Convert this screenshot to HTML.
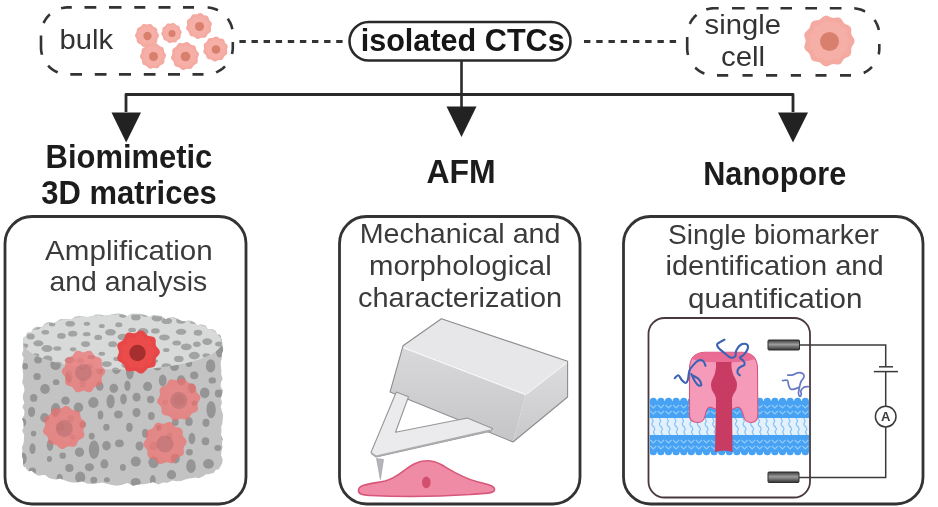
<!DOCTYPE html>
<html><head><meta charset="utf-8"><style>
html,body{margin:0;padding:0;background:#fff;width:938px;height:507px;overflow:hidden}
svg{display:block}
text{will-change:opacity}
.r{font-family:"Liberation Sans",sans-serif;font-weight:400}
.b{font-family:"Liberation Sans",sans-serif;font-weight:700}
</style></head><body>
<svg width="938" height="507" viewBox="0 0 938 507">
<rect width="938" height="507" fill="#fff"/>
<path d="M61.1,8.3 L61.5,8.2 L62.0,8.1 L62.5,8.0 L63.0,7.9 L63.5,7.8 L64.0,7.7 L64.5,7.6 L65.0,7.6 L65.5,7.5 L66.0,7.5 L66.5,7.4 L67.0,7.4 L67.5,7.4 L68.0,7.4 L68.5,7.4 L69.0,7.4 L69.5,7.4 L70.0,7.4 L70.5,7.4 L71.0,7.4 L71.5,7.4 L71.8,7.4 M84.5,7.4 L85.0,7.4 L85.5,7.4 L86.0,7.4 L86.5,7.4 L87.0,7.4 L87.5,7.4 L88.0,7.4 L88.5,7.4 L89.0,7.4 L89.5,7.4 L90.0,7.4 L90.5,7.4 L91.0,7.4 L91.5,7.4 L92.0,7.4 L92.5,7.4 L93.0,7.4 L93.5,7.4 L94.0,7.4 L94.5,7.4 L95.0,7.4 L95.5,7.4 L96.0,7.4 L96.3,7.4 M109.0,7.4 L109.5,7.4 L110.0,7.4 L110.5,7.4 L111.0,7.4 L111.5,7.4 L112.0,7.4 L112.5,7.4 L113.0,7.4 L113.5,7.4 L114.0,7.4 L114.5,7.4 L115.0,7.4 L115.5,7.4 L116.0,7.4 L116.5,7.4 L117.0,7.4 L117.5,7.4 L118.0,7.4 L118.5,7.4 L119.0,7.4 L119.5,7.4 L120.0,7.4 L120.5,7.4 L121.0,7.4 L121.5,7.4 L121.5,7.4 M134.3,7.4 L134.8,7.4 L135.3,7.4 L135.8,7.4 L136.3,7.4 L136.8,7.4 L137.3,7.4 L137.8,7.4 L138.3,7.4 L138.8,7.4 L139.3,7.4 L139.8,7.4 L140.3,7.4 L140.8,7.4 L141.3,7.4 L141.8,7.4 L142.3,7.4 L142.8,7.4 L143.3,7.4 L143.8,7.4 L144.3,7.4 L144.8,7.4 L145.3,7.4 L145.3,7.4 M158.5,7.4 L159.0,7.4 L159.5,7.4 L160.0,7.4 L160.5,7.4 L161.0,7.4 L161.5,7.4 L162.0,7.4 L162.5,7.4 L163.0,7.4 L163.5,7.4 L164.0,7.4 L164.5,7.4 L165.0,7.4 L165.5,7.4 L166.0,7.4 L166.5,7.4 L167.0,7.4 L167.5,7.4 L168.0,7.4 L168.5,7.4 L169.0,7.4 L169.5,7.4 L170.0,7.4 L170.5,7.4 L170.5,7.4 M183.0,7.4 L183.5,7.4 L184.0,7.4 L184.5,7.4 L185.0,7.4 L185.5,7.4 L186.0,7.4 L186.5,7.4 L187.0,7.4 L187.5,7.4 L188.0,7.4 L188.5,7.4 L189.0,7.4 L189.5,7.4 L190.0,7.4 L190.5,7.4 L191.0,7.4 L191.5,7.4 L192.0,7.4 L192.5,7.4 L193.0,7.4 L193.5,7.4 L194.0,7.4 L194.0,7.4 M207.6,7.5 L208.1,7.5 L208.6,7.5 L209.1,7.6 L209.6,7.7 L210.0,7.7 L210.5,7.8 L211.0,7.9 L211.5,8.0 L212.0,8.1 L212.5,8.2 L213.0,8.4 L213.5,8.5 L214.0,8.7 L214.4,8.8 L214.9,9.0 L215.4,9.2 L215.8,9.3 L216.3,9.5 L216.8,9.7 L217.2,9.9 L217.7,10.2 L217.9,10.3 M227.7,18.7 L228.0,19.1 L228.3,19.5 L228.6,19.9 L228.8,20.3 L229.1,20.8 L229.3,21.2 L229.6,21.6 L229.8,22.1 L230.0,22.5 L230.3,23.0 L230.5,23.4 L230.7,23.9 L230.9,24.4 L231.0,24.8 L231.2,25.3 L231.4,25.8 L231.5,26.2 L231.7,26.7 L231.8,27.2 L232.0,27.7 L232.1,28.2 L232.2,28.7 L232.3,29.2 L232.3,29.2 M232.8,41.9 L232.8,42.4 L232.8,42.9 L232.8,43.4 L232.8,43.9 L232.8,44.4 L232.8,44.9 L232.8,45.4 L232.8,45.9 L232.8,46.4 L232.8,46.9 L232.8,47.4 L232.8,47.9 L232.8,48.4 L232.8,48.9 L232.7,49.4 L232.7,49.9 L232.6,50.4 L232.6,50.9 L232.5,51.4 L232.4,51.9 L232.3,52.4 L232.2,52.9 L232.1,53.4 L232.0,53.9 L232.0,53.9 M225.0,66.4 L224.6,66.8 L224.3,67.1 L223.9,67.4 L223.5,67.8 L223.1,68.1 L222.7,68.4 L222.4,68.7 L222.0,69.0 L221.5,69.3 L221.1,69.6 L220.7,69.9 L220.3,70.2 L219.9,70.4 L219.4,70.7 L219.0,70.9 L218.6,71.2 L218.1,71.4 L217.7,71.6 L217.2,71.9 L216.8,72.1 L216.3,72.3 L216.1,72.4 M203.5,74.4 L203.0,74.4 L202.5,74.4 L202.0,74.4 L201.5,74.4 L201.0,74.4 L200.5,74.4 L200.0,74.4 L199.5,74.4 L199.0,74.4 L198.5,74.4 L198.0,74.4 L197.5,74.4 L197.0,74.4 L196.5,74.4 L196.0,74.4 L195.5,74.4 L195.0,74.4 L194.5,74.4 L194.0,74.4 L193.5,74.4 L193.0,74.4 L192.5,74.4 L192.5,74.4 M180.0,74.4 L179.5,74.4 L179.0,74.4 L178.5,74.4 L178.0,74.4 L177.5,74.4 L177.0,74.4 L176.5,74.4 L176.0,74.4 L175.5,74.4 L175.0,74.4 L174.5,74.4 L174.0,74.4 L173.5,74.4 L173.0,74.4 L172.5,74.4 L172.0,74.4 L171.5,74.4 L171.0,74.4 L170.5,74.4 L170.0,74.4 L169.5,74.4 L169.0,74.4 L168.5,74.4 L168.0,74.4 L168.0,74.4 M155.5,74.4 L155.0,74.4 L154.5,74.4 L154.0,74.4 L153.5,74.4 L153.0,74.4 L152.5,74.4 L152.0,74.4 L151.5,74.4 L151.0,74.4 L150.5,74.4 L150.0,74.4 L149.5,74.4 L149.0,74.4 L148.5,74.4 L148.0,74.4 L147.5,74.4 L147.0,74.4 L146.5,74.4 L146.0,74.4 L145.5,74.4 L145.0,74.4 L144.5,74.4 L144.0,74.4 L143.8,74.4 M131.0,74.4 L130.5,74.4 L130.0,74.4 L129.5,74.4 L129.0,74.4 L128.5,74.4 L128.0,74.4 L127.5,74.4 L127.0,74.4 L126.5,74.4 L126.0,74.4 L125.5,74.4 L125.0,74.4 L124.5,74.4 L124.0,74.4 L123.5,74.4 L123.0,74.4 L122.5,74.4 L122.0,74.4 L121.5,74.4 L121.0,74.4 L120.5,74.4 L120.0,74.4 L119.5,74.4 L119.0,74.4 L119.0,74.4 M106.5,74.4 L106.0,74.4 L105.5,74.4 L105.0,74.4 L104.5,74.4 L104.0,74.4 L103.5,74.4 L103.0,74.4 L102.5,74.4 L102.0,74.4 L101.5,74.4 L101.0,74.4 L100.5,74.4 L100.0,74.4 L99.5,74.4 L99.0,74.4 L98.5,74.4 L98.0,74.4 L97.5,74.4 L97.0,74.4 L96.5,74.4 L96.0,74.4 L95.5,74.4 L95.0,74.4 L94.8,74.4 M82.0,74.4 L81.5,74.4 L81.0,74.4 L80.5,74.4 L80.0,74.4 L79.5,74.4 L79.0,74.4 L78.5,74.4 L78.0,74.4 L77.5,74.4 L77.0,74.4 L76.5,74.4 L76.0,74.4 L75.5,74.4 L75.0,74.4 L74.5,74.4 L74.0,74.4 L73.5,74.4 L73.0,74.4 L72.5,74.4 L72.0,74.4 L71.5,74.4 L71.0,74.4 L70.5,74.4 L70.3,74.4 M57.7,72.4 L57.3,72.2 L56.8,72.0 L56.3,71.8 L55.9,71.5 L55.5,71.3 L55.0,71.1 L54.6,70.8 L54.1,70.6 L53.7,70.3 L53.3,70.0 L52.9,69.8 L52.5,69.5 L52.0,69.2 L51.6,68.9 L51.2,68.6 L50.9,68.3 L50.5,67.9 L50.1,67.6 L49.7,67.3 L49.4,66.9 L49.0,66.6 L48.6,66.2 L48.3,65.9 L48.1,65.7 M42.0,54.8 L41.9,54.3 L41.8,53.9 L41.7,53.4 L41.6,52.9 L41.5,52.4 L41.4,51.9 L41.3,51.4 L41.2,50.9 L41.2,50.4 L41.1,49.9 L41.1,49.4 L41.0,48.9 L41.0,48.4 L41.0,47.9 L41.0,47.4 L41.0,46.9 L41.0,46.4 L41.0,45.9 L41.0,45.4 L41.0,44.9 L41.0,44.4 L41.0,43.9 L41.0,43.4 L41.0,42.9 L41.0,42.4 L41.0,41.9 L41.0,41.4 L41.0,40.9 L41.0,40.4 L41.0,39.9 L41.0,39.4 L41.0,38.9 L41.0,38.4 L41.0,37.9 L41.0,37.4 L41.0,36.9 L41.0,36.4 L41.0,35.9 L41.0,35.4 L41.0,35.4 M43.5,23.0 L43.8,22.5 L44.0,22.1 L44.2,21.6 L44.5,21.2 L44.7,20.8 L45.0,20.3 L45.2,19.9 L45.5,19.5 L45.8,19.1 L46.1,18.7 L46.4,18.2 L46.7,17.8 L47.0,17.5 L47.3,17.1 L47.6,16.7 L48.0,16.3 L48.3,15.9 L48.6,15.6 L49.0,15.2 L49.4,14.9 L49.7,14.5 L49.9,14.4" fill="none" stroke="#333" stroke-width="2.6" stroke-linecap="butt"/>
<path d="M159.0,35.5 L158.9,36.3 L158.5,37.1 L158.0,37.8 L157.6,38.5 L157.3,39.3 L157.3,40.1 L157.2,40.9 L157.1,41.8 L156.7,42.6 L156.1,43.1 L155.3,43.6 L154.5,43.9 L153.8,44.2 L153.2,44.6 L152.6,45.2 L152.1,45.9 L151.5,46.5 L150.7,46.9 L149.9,47.0 L149.0,46.9 L148.2,46.7 L147.4,46.5 L146.6,46.5 L145.8,46.7 L145.0,46.9 L144.1,47.0 L143.3,46.9 L142.5,46.5 L141.9,45.9 L141.4,45.2 L140.8,44.6 L140.2,44.2 L139.5,43.9 L138.7,43.6 L137.9,43.1 L137.3,42.6 L136.9,41.8 L136.8,40.9 L136.7,40.1 L136.7,39.3 L136.4,38.5 L136.0,37.8 L135.5,37.1 L135.1,36.3 L135.0,35.5 L135.1,34.7 L135.5,33.9 L136.0,33.2 L136.4,32.5 L136.7,31.7 L136.7,30.9 L136.8,30.1 L136.9,29.2 L137.3,28.4 L137.9,27.9 L138.7,27.4 L139.5,27.1 L140.2,26.8 L140.8,26.4 L141.4,25.8 L141.9,25.1 L142.5,24.5 L143.3,24.1 L144.1,24.0 L145.0,24.1 L145.8,24.3 L146.6,24.5 L147.4,24.5 L148.2,24.3 L149.0,24.1 L149.9,24.0 L150.7,24.1 L151.5,24.5 L152.1,25.1 L152.6,25.8 L153.2,26.4 L153.8,26.8 L154.5,27.1 L155.3,27.4 L156.1,27.9 L156.7,28.4 L157.1,29.2 L157.2,30.1 L157.3,30.9 L157.3,31.7 L157.6,32.5 L158.0,33.2 L158.5,33.9 L158.9,34.7Z" fill="#f4a9a1"/><path d="M156.6,35.5 L156.3,36.2 L156.0,36.8 L155.6,37.3 L155.4,37.9 L155.4,38.5 L155.4,39.2 L155.4,40.0 L155.2,40.6 L154.8,41.1 L154.2,41.5 L153.5,41.8 L152.9,42.0 L152.4,42.4 L152.0,42.9 L151.6,43.5 L151.2,44.0 L150.6,44.4 L150.0,44.6 L149.3,44.6 L148.6,44.4 L147.9,44.3 L147.3,44.2 L146.7,44.4 L146.0,44.6 L145.4,44.8 L144.7,44.9 L144.0,44.6 L143.5,44.2 L143.0,43.6 L142.6,43.1 L142.1,42.8 L141.5,42.5 L140.9,42.3 L140.2,42.1 L139.6,41.7 L139.2,41.1 L139.1,40.5 L139.0,39.8 L139.0,39.1 L138.8,38.5 L138.4,38.0 L138.0,37.4 L137.6,36.8 L137.4,36.2 L137.4,35.5 L137.7,34.8 L138.0,34.2 L138.4,33.7 L138.6,33.1 L138.6,32.5 L138.6,31.8 L138.6,31.0 L138.8,30.4 L139.2,29.9 L139.8,29.5 L140.5,29.2 L141.1,29.0 L141.6,28.6 L142.0,28.1 L142.4,27.5 L142.8,27.0 L143.4,26.6 L144.0,26.4 L144.7,26.4 L145.4,26.6 L146.1,26.7 L146.7,26.8 L147.3,26.6 L148.0,26.4 L148.6,26.2 L149.3,26.1 L150.0,26.4 L150.5,26.8 L151.0,27.4 L151.4,27.9 L151.9,28.2 L152.5,28.5 L153.1,28.7 L153.8,28.9 L154.4,29.3 L154.8,29.9 L154.9,30.5 L155.0,31.2 L155.0,31.9 L155.2,32.5 L155.6,33.0 L156.0,33.6 L156.4,34.2 L156.6,34.8Z" fill="#f7b9b0" opacity="0.4"/><circle cx="147.5" cy="36.0" r="4.14" fill="#d8806d"/>
<path d="M181.5,33.0 L181.2,33.7 L180.9,34.3 L180.7,34.9 L180.6,35.6 L180.6,36.3 L180.6,37.1 L180.5,37.8 L180.2,38.4 L179.6,38.9 L179.0,39.3 L178.3,39.6 L177.8,40.0 L177.3,40.4 L176.9,41.0 L176.5,41.7 L176.0,42.2 L175.3,42.5 L174.6,42.5 L173.9,42.5 L173.1,42.3 L172.5,42.3 L171.8,42.4 L171.2,42.7 L170.5,42.9 L169.7,43.1 L169.0,42.9 L168.4,42.5 L167.8,42.0 L167.3,41.5 L166.8,41.1 L166.2,40.8 L165.5,40.6 L164.8,40.4 L164.2,40.1 L163.7,39.6 L163.4,38.9 L163.2,38.2 L163.1,37.4 L162.9,36.8 L162.6,36.2 L162.2,35.7 L161.7,35.1 L161.4,34.4 L161.3,33.7 L161.5,33.0 L161.8,32.3 L162.1,31.7 L162.3,31.1 L162.4,30.4 L162.4,29.7 L162.4,28.9 L162.5,28.2 L162.8,27.6 L163.4,27.1 L164.0,26.7 L164.7,26.4 L165.2,26.0 L165.7,25.6 L166.1,25.0 L166.5,24.3 L167.0,23.8 L167.7,23.5 L168.4,23.5 L169.1,23.5 L169.9,23.7 L170.5,23.7 L171.2,23.6 L171.8,23.3 L172.5,23.1 L173.3,22.9 L174.0,23.1 L174.6,23.5 L175.2,24.0 L175.7,24.5 L176.2,24.9 L176.8,25.2 L177.5,25.4 L178.2,25.6 L178.8,25.9 L179.3,26.4 L179.6,27.1 L179.8,27.8 L179.9,28.6 L180.1,29.2 L180.4,29.8 L180.8,30.3 L181.3,30.9 L181.6,31.6 L181.7,32.3Z" fill="#f4a9a1"/><path d="M179.4,33.0 L179.1,33.5 L178.9,34.0 L178.8,34.6 L178.9,35.1 L179.0,35.7 L179.0,36.3 L178.8,36.9 L178.4,37.3 L177.9,37.6 L177.3,37.9 L176.9,38.2 L176.5,38.6 L176.2,39.1 L175.9,39.6 L175.6,40.1 L175.1,40.4 L174.5,40.5 L173.9,40.5 L173.3,40.4 L172.8,40.3 L172.3,40.4 L171.8,40.7 L171.2,40.9 L170.6,41.1 L170.1,41.1 L169.5,40.9 L169.1,40.5 L168.6,40.1 L168.2,39.7 L167.8,39.5 L167.2,39.4 L166.6,39.3 L166.0,39.1 L165.6,38.7 L165.3,38.2 L165.1,37.6 L165.0,37.0 L164.9,36.5 L164.7,36.0 L164.3,35.6 L163.9,35.2 L163.5,34.7 L163.4,34.1 L163.4,33.6 L163.6,33.0 L163.9,32.5 L164.1,32.0 L164.2,31.4 L164.1,30.9 L164.0,30.3 L164.0,29.7 L164.2,29.1 L164.6,28.7 L165.1,28.4 L165.7,28.1 L166.1,27.8 L166.5,27.4 L166.8,26.9 L167.1,26.4 L167.4,25.9 L167.9,25.6 L168.5,25.5 L169.1,25.5 L169.7,25.6 L170.2,25.7 L170.7,25.6 L171.2,25.3 L171.8,25.1 L172.4,24.9 L172.9,24.9 L173.5,25.1 L173.9,25.5 L174.4,25.9 L174.8,26.3 L175.2,26.5 L175.8,26.6 L176.4,26.7 L177.0,26.9 L177.4,27.3 L177.7,27.8 L177.9,28.4 L178.0,29.0 L178.1,29.5 L178.3,30.0 L178.7,30.4 L179.1,30.8 L179.5,31.3 L179.6,31.9 L179.6,32.4Z" fill="#f7b9b0" opacity="0.4"/><circle cx="172.0" cy="33.5" r="3.528" fill="#d8806d"/>
<path d="M211.3,26.0 L211.0,26.8 L210.8,27.7 L210.9,28.5 L211.1,29.5 L211.1,30.4 L210.9,31.3 L210.4,32.1 L209.7,32.7 L208.9,33.2 L208.2,33.7 L207.6,34.3 L207.1,35.0 L206.7,35.9 L206.2,36.7 L205.5,37.3 L204.7,37.7 L203.7,37.7 L202.8,37.7 L201.9,37.6 L201.1,37.8 L200.3,38.1 L199.4,38.5 L198.5,38.9 L197.6,39.0 L196.7,38.8 L195.9,38.3 L195.2,37.7 L194.5,37.1 L193.8,36.7 L192.9,36.5 L192.0,36.4 L191.1,36.2 L190.3,35.7 L189.7,35.0 L189.3,34.1 L189.1,33.2 L188.8,32.4 L188.4,31.6 L187.9,31.0 L187.2,30.3 L186.6,29.6 L186.2,28.7 L186.2,27.8 L186.4,26.9 L186.7,26.0 L187.0,25.2 L187.2,24.3 L187.1,23.5 L186.9,22.5 L186.9,21.6 L187.1,20.7 L187.6,19.9 L188.3,19.3 L189.1,18.8 L189.8,18.3 L190.4,17.7 L190.9,17.0 L191.3,16.1 L191.8,15.3 L192.5,14.7 L193.3,14.3 L194.3,14.3 L195.2,14.3 L196.1,14.4 L196.9,14.2 L197.7,13.9 L198.6,13.5 L199.5,13.1 L200.4,13.0 L201.3,13.2 L202.1,13.7 L202.8,14.3 L203.5,14.9 L204.2,15.3 L205.1,15.5 L206.0,15.6 L206.9,15.8 L207.7,16.3 L208.3,17.0 L208.7,17.9 L208.9,18.8 L209.2,19.6 L209.6,20.4 L210.1,21.0 L210.8,21.7 L211.4,22.4 L211.8,23.3 L211.8,24.2 L211.6,25.1Z" fill="#f4a9a1"/><path d="M208.6,26.0 L208.5,26.7 L208.5,27.3 L208.7,28.1 L208.9,28.8 L208.8,29.6 L208.6,30.3 L208.0,30.8 L207.4,31.2 L206.8,31.6 L206.3,32.1 L205.9,32.7 L205.7,33.4 L205.3,34.1 L204.9,34.7 L204.2,35.1 L203.5,35.2 L202.7,35.2 L202.0,35.1 L201.3,35.2 L200.7,35.5 L200.0,35.9 L199.4,36.3 L198.6,36.5 L197.9,36.4 L197.2,36.1 L196.6,35.6 L196.0,35.1 L195.4,34.8 L194.8,34.7 L194.0,34.6 L193.3,34.5 L192.5,34.3 L192.0,33.8 L191.6,33.1 L191.4,32.4 L191.2,31.6 L190.9,31.0 L190.5,30.5 L189.9,30.0 L189.3,29.5 L188.9,28.9 L188.8,28.2 L188.9,27.4 L189.1,26.7 L189.4,26.0 L189.5,25.3 L189.5,24.7 L189.3,23.9 L189.1,23.2 L189.2,22.4 L189.4,21.7 L190.0,21.2 L190.6,20.8 L191.2,20.4 L191.7,19.9 L192.1,19.3 L192.3,18.6 L192.7,17.9 L193.1,17.3 L193.8,16.9 L194.5,16.8 L195.3,16.8 L196.0,16.9 L196.7,16.8 L197.3,16.5 L198.0,16.1 L198.6,15.7 L199.4,15.5 L200.1,15.6 L200.8,15.9 L201.4,16.4 L202.0,16.9 L202.6,17.2 L203.2,17.3 L204.0,17.4 L204.7,17.5 L205.5,17.7 L206.0,18.2 L206.4,18.9 L206.6,19.6 L206.8,20.4 L207.1,21.0 L207.5,21.5 L208.1,22.0 L208.7,22.5 L209.1,23.1 L209.2,23.8 L209.1,24.6 L208.9,25.3Z" fill="#f7b9b0" opacity="0.4"/><circle cx="199.5" cy="26.5" r="4.5" fill="#d8806d"/>
<path d="M166.0,56.0 L165.7,56.9 L165.2,57.7 L164.8,58.5 L164.5,59.3 L164.4,60.1 L164.4,61.1 L164.3,62.0 L164.1,62.9 L163.5,63.6 L162.7,64.2 L161.9,64.6 L161.0,64.9 L160.4,65.4 L159.8,66.1 L159.2,66.8 L158.6,67.6 L157.9,68.1 L157.0,68.4 L156.1,68.3 L155.1,68.1 L154.3,68.0 L153.4,67.9 L152.6,68.1 L151.7,68.4 L150.8,68.7 L149.8,68.7 L149.0,68.4 L148.2,67.8 L147.6,67.1 L147.0,66.4 L146.3,65.9 L145.5,65.6 L144.6,65.3 L143.8,64.9 L143.0,64.4 L142.5,63.6 L142.2,62.7 L142.1,61.8 L142.0,60.9 L141.8,60.1 L141.3,59.3 L140.8,58.6 L140.3,57.8 L140.0,56.9 L140.0,56.0 L140.3,55.1 L140.8,54.3 L141.2,53.5 L141.5,52.7 L141.6,51.9 L141.6,50.9 L141.7,50.0 L141.9,49.1 L142.5,48.4 L143.3,47.8 L144.1,47.4 L145.0,47.1 L145.6,46.6 L146.2,45.9 L146.8,45.2 L147.4,44.4 L148.1,43.9 L149.0,43.6 L149.9,43.7 L150.9,43.9 L151.7,44.0 L152.6,44.1 L153.4,43.9 L154.3,43.6 L155.2,43.3 L156.2,43.3 L157.0,43.6 L157.8,44.2 L158.4,44.9 L159.0,45.6 L159.7,46.1 L160.5,46.4 L161.4,46.7 L162.2,47.1 L163.0,47.6 L163.5,48.4 L163.8,49.3 L163.9,50.2 L164.0,51.1 L164.2,51.9 L164.7,52.7 L165.2,53.4 L165.7,54.2 L166.0,55.1Z" fill="#f4a9a1"/><path d="M163.3,56.0 L162.9,56.7 L162.5,57.3 L162.3,58.0 L162.2,58.6 L162.3,59.4 L162.3,60.2 L162.2,60.9 L161.9,61.6 L161.3,62.0 L160.6,62.4 L159.9,62.7 L159.4,63.1 L158.9,63.6 L158.5,64.2 L158.1,64.9 L157.6,65.4 L156.9,65.7 L156.2,65.8 L155.4,65.6 L154.7,65.5 L154.0,65.4 L153.3,65.6 L152.7,65.9 L151.9,66.2 L151.2,66.3 L150.5,66.2 L149.8,65.8 L149.3,65.2 L148.8,64.7 L148.2,64.2 L147.6,64.0 L146.9,63.8 L146.2,63.6 L145.5,63.3 L145.0,62.7 L144.7,62.0 L144.6,61.3 L144.5,60.5 L144.3,59.9 L144.0,59.3 L143.5,58.7 L143.0,58.1 L142.6,57.5 L142.5,56.7 L142.7,56.0 L143.1,55.3 L143.5,54.7 L143.7,54.0 L143.8,53.4 L143.7,52.6 L143.7,51.8 L143.8,51.1 L144.1,50.4 L144.7,50.0 L145.4,49.6 L146.1,49.3 L146.6,48.9 L147.1,48.4 L147.5,47.8 L147.9,47.1 L148.4,46.6 L149.1,46.3 L149.8,46.2 L150.6,46.4 L151.3,46.5 L152.0,46.6 L152.7,46.4 L153.3,46.1 L154.1,45.8 L154.8,45.7 L155.5,45.8 L156.2,46.2 L156.7,46.8 L157.2,47.3 L157.8,47.8 L158.4,48.0 L159.1,48.2 L159.8,48.4 L160.5,48.7 L161.0,49.3 L161.3,50.0 L161.4,50.7 L161.5,51.5 L161.7,52.1 L162.0,52.7 L162.5,53.3 L163.0,53.9 L163.4,54.5 L163.5,55.3Z" fill="#f7b9b0" opacity="0.4"/><circle cx="153.5" cy="56.5" r="4.5" fill="#d8806d"/>
<path d="M198.5,56.0 L198.1,56.9 L197.8,57.8 L197.7,58.7 L197.7,59.7 L197.8,60.7 L197.8,61.7 L197.5,62.6 L196.8,63.4 L196.0,64.0 L195.1,64.4 L194.3,65.0 L193.7,65.6 L193.2,66.4 L192.6,67.3 L192.0,68.1 L191.2,68.7 L190.2,68.9 L189.2,68.9 L188.2,68.8 L187.2,68.7 L186.4,68.9 L185.5,69.2 L184.5,69.7 L183.5,69.9 L182.6,69.9 L181.6,69.5 L180.8,68.9 L180.1,68.2 L179.3,67.6 L178.5,67.2 L177.6,67.0 L176.6,66.8 L175.6,66.4 L174.9,65.8 L174.3,64.9 L174.0,64.0 L173.9,63.0 L173.6,62.1 L173.2,61.3 L172.5,60.5 L171.9,59.8 L171.3,58.9 L171.0,58.0 L171.1,57.0 L171.5,56.0 L171.9,55.1 L172.2,54.2 L172.3,53.3 L172.3,52.3 L172.2,51.3 L172.2,50.3 L172.5,49.4 L173.2,48.6 L174.0,48.0 L174.9,47.6 L175.7,47.0 L176.3,46.4 L176.8,45.6 L177.4,44.7 L178.0,43.9 L178.8,43.3 L179.8,43.1 L180.8,43.1 L181.8,43.2 L182.8,43.3 L183.6,43.1 L184.5,42.8 L185.5,42.3 L186.5,42.1 L187.4,42.1 L188.4,42.5 L189.2,43.1 L189.9,43.8 L190.7,44.4 L191.5,44.8 L192.4,45.0 L193.4,45.2 L194.4,45.6 L195.1,46.2 L195.7,47.1 L196.0,48.0 L196.1,49.0 L196.4,49.9 L196.8,50.7 L197.5,51.5 L198.1,52.2 L198.7,53.1 L199.0,54.0 L198.9,55.0Z" fill="#f4a9a1"/><path d="M195.6,56.0 L195.3,56.7 L195.2,57.4 L195.3,58.2 L195.4,59.0 L195.5,59.8 L195.4,60.6 L194.9,61.3 L194.3,61.8 L193.6,62.2 L192.9,62.6 L192.4,63.1 L192.0,63.8 L191.7,64.5 L191.3,65.3 L190.7,65.8 L189.9,66.1 L189.1,66.1 L188.3,66.1 L187.5,66.0 L186.8,66.1 L186.1,66.4 L185.4,66.8 L184.6,67.2 L183.8,67.3 L183.0,67.1 L182.4,66.6 L181.7,66.1 L181.1,65.6 L180.5,65.2 L179.8,65.1 L178.9,65.0 L178.1,64.8 L177.4,64.4 L176.9,63.8 L176.6,63.0 L176.4,62.2 L176.3,61.5 L175.9,60.8 L175.4,60.3 L174.8,59.7 L174.3,59.1 L173.9,58.4 L173.9,57.6 L174.1,56.8 L174.4,56.0 L174.7,55.3 L174.8,54.6 L174.7,53.8 L174.6,53.0 L174.5,52.2 L174.6,51.4 L175.1,50.7 L175.7,50.2 L176.4,49.8 L177.1,49.4 L177.6,48.9 L178.0,48.2 L178.3,47.5 L178.7,46.7 L179.3,46.2 L180.1,45.9 L180.9,45.9 L181.7,45.9 L182.5,46.0 L183.2,45.9 L183.9,45.6 L184.6,45.2 L185.4,44.8 L186.2,44.7 L187.0,44.9 L187.6,45.4 L188.3,45.9 L188.9,46.4 L189.5,46.8 L190.2,46.9 L191.1,47.0 L191.9,47.2 L192.6,47.6 L193.1,48.2 L193.4,49.0 L193.6,49.8 L193.7,50.5 L194.1,51.2 L194.6,51.7 L195.2,52.3 L195.7,52.9 L196.1,53.6 L196.1,54.4 L195.9,55.2Z" fill="#f7b9b0" opacity="0.4"/><circle cx="185.5" cy="56.5" r="4.859999999999999" fill="#d8806d"/>
<path d="M227.1,49.0 L226.9,49.8 L227.0,50.6 L227.2,51.5 L227.3,52.4 L227.3,53.3 L226.9,54.1 L226.3,54.7 L225.6,55.3 L224.9,55.8 L224.3,56.4 L223.8,57.1 L223.5,57.9 L223.1,58.7 L222.5,59.4 L221.7,59.8 L220.9,60.0 L219.9,60.0 L219.1,60.0 L218.3,60.1 L217.5,60.4 L216.7,60.9 L215.9,61.3 L215.1,61.5 L214.2,61.4 L213.4,61.1 L212.6,60.5 L211.9,60.0 L211.2,59.6 L210.4,59.4 L209.5,59.3 L208.6,59.2 L207.8,58.9 L207.1,58.3 L206.7,57.5 L206.4,56.6 L206.1,55.8 L205.8,55.1 L205.3,54.4 L204.6,53.9 L203.9,53.2 L203.5,52.5 L203.3,51.6 L203.4,50.7 L203.7,49.8 L203.9,49.0 L204.1,48.2 L204.0,47.4 L203.8,46.5 L203.7,45.6 L203.7,44.7 L204.1,43.9 L204.7,43.3 L205.4,42.7 L206.1,42.2 L206.7,41.6 L207.2,40.9 L207.5,40.1 L207.9,39.3 L208.5,38.6 L209.3,38.2 L210.1,38.0 L211.1,38.0 L211.9,38.0 L212.7,37.9 L213.5,37.6 L214.3,37.1 L215.1,36.7 L215.9,36.5 L216.8,36.6 L217.6,36.9 L218.4,37.5 L219.1,38.0 L219.8,38.4 L220.6,38.6 L221.5,38.7 L222.4,38.8 L223.2,39.1 L223.9,39.7 L224.3,40.5 L224.6,41.4 L224.9,42.2 L225.2,42.9 L225.7,43.6 L226.4,44.1 L227.1,44.8 L227.5,45.5 L227.7,46.4 L227.6,47.3 L227.3,48.2Z" fill="#f4a9a1"/><path d="M224.6,49.0 L224.7,49.6 L224.9,50.3 L225.1,51.0 L225.1,51.8 L225.0,52.4 L224.5,53.0 L224.0,53.5 L223.4,53.9 L222.9,54.4 L222.5,54.9 L222.3,55.6 L222.0,56.3 L221.7,56.9 L221.1,57.3 L220.4,57.6 L219.7,57.6 L219.0,57.6 L218.3,57.7 L217.7,57.9 L217.1,58.3 L216.5,58.7 L215.8,59.0 L215.1,59.1 L214.5,58.8 L213.8,58.4 L213.3,58.0 L212.7,57.7 L212.1,57.5 L211.4,57.5 L210.6,57.5 L209.9,57.3 L209.3,56.9 L208.9,56.4 L208.6,55.7 L208.4,55.0 L208.1,54.4 L207.7,53.9 L207.2,53.4 L206.6,53.0 L206.1,52.4 L205.8,51.8 L205.8,51.1 L206.0,50.3 L206.2,49.6 L206.4,49.0 L206.3,48.4 L206.1,47.7 L205.9,47.0 L205.9,46.2 L206.0,45.6 L206.5,45.0 L207.0,44.5 L207.6,44.1 L208.1,43.6 L208.5,43.1 L208.7,42.4 L209.0,41.7 L209.3,41.1 L209.9,40.7 L210.6,40.4 L211.3,40.4 L212.0,40.4 L212.7,40.3 L213.3,40.1 L213.9,39.7 L214.5,39.3 L215.2,39.0 L215.9,38.9 L216.5,39.2 L217.2,39.6 L217.7,40.0 L218.3,40.3 L218.9,40.5 L219.6,40.5 L220.4,40.5 L221.1,40.7 L221.7,41.1 L222.1,41.6 L222.4,42.3 L222.6,43.0 L222.9,43.6 L223.3,44.1 L223.8,44.6 L224.4,45.0 L224.9,45.6 L225.2,46.2 L225.2,46.9 L225.0,47.7 L224.8,48.4Z" fill="#f7b9b0" opacity="0.4"/><circle cx="216.0" cy="49.5" r="4.32" fill="#d8806d"/>
<text x="59.58" y="48.9" class="r" font-size="28" textLength="53.59" lengthAdjust="spacingAndGlyphs" fill="#333">bulk</text>
<line x1="239.4" y1="41.4" x2="343" y2="41.4" stroke="#333" stroke-width="3" stroke-dasharray="6.4 5.7"/>
<line x1="584" y1="41.4" x2="677" y2="41.4" stroke="#333" stroke-width="3" stroke-dasharray="6.4 5.84"/>
<rect x="349.5" y="22" width="221" height="38.5" rx="19.2" fill="#fff" stroke="#2a2a2a" stroke-width="2.6"/>
<text x="360.65" y="51" class="b" font-size="32" textLength="204.05" lengthAdjust="spacingAndGlyphs" fill="#161616">isolated CTCs</text>
<path d="M706.3,9.5 L706.8,9.3 L707.3,9.2 L707.7,9.1 L708.2,9.0 L708.7,8.9 L709.2,8.8 L709.7,8.7 L710.2,8.6 L710.7,8.5 L711.2,8.5 L711.7,8.4 L712.2,8.4 L712.7,8.3 L713.2,8.3 L713.7,8.3 L714.2,8.3 L714.7,8.3 L715.2,8.3 L715.7,8.3 L716.2,8.3 L716.7,8.3 L717.2,8.3 L717.7,8.3 L718.2,8.3 L718.7,8.3 L718.7,8.3 M732.0,8.3 L732.5,8.3 L733.0,8.3 L733.5,8.3 L734.0,8.3 L734.5,8.3 L735.0,8.3 L735.5,8.3 L736.0,8.3 L736.5,8.3 L737.0,8.3 L737.5,8.3 L738.0,8.3 L738.5,8.3 L739.0,8.3 L739.5,8.3 L740.0,8.3 L740.5,8.3 L741.0,8.3 L741.5,8.3 L742.0,8.3 L742.5,8.3 L743.0,8.3 L743.5,8.3 L744.0,8.3 L744.5,8.3 L744.7,8.3 M756.5,8.3 L757.0,8.3 L757.5,8.3 L758.0,8.3 L758.5,8.3 L759.0,8.3 L759.5,8.3 L760.0,8.3 L760.5,8.3 L761.0,8.3 L761.5,8.3 L762.0,8.3 L762.5,8.3 L763.0,8.3 L763.5,8.3 L764.0,8.3 L764.5,8.3 L765.0,8.3 L765.5,8.3 L766.0,8.3 L766.5,8.3 L767.0,8.3 L767.5,8.3 L768.0,8.3 L768.5,8.3 L768.5,8.3 M780.5,8.3 L781.0,8.3 L781.5,8.3 L782.0,8.3 L782.5,8.3 L783.0,8.3 L783.5,8.3 L784.0,8.3 L784.5,8.3 L785.0,8.3 L785.5,8.3 L786.0,8.3 L786.5,8.3 L787.0,8.3 L787.5,8.3 L788.0,8.3 L788.5,8.3 L789.0,8.3 L789.5,8.3 L790.0,8.3 L790.5,8.3 L791.0,8.3 L791.5,8.3 L792.0,8.3 L792.0,8.3 M805.3,8.3 L805.8,8.3 L806.3,8.3 L806.8,8.3 L807.3,8.3 L807.8,8.3 L808.3,8.3 L808.8,8.3 L809.3,8.3 L809.8,8.3 L810.3,8.3 L810.8,8.3 L811.3,8.3 L811.8,8.3 L812.3,8.3 L812.8,8.3 L813.3,8.3 L813.8,8.3 L814.3,8.3 L814.8,8.3 L815.3,8.3 L815.8,8.3 L816.3,8.3 L816.8,8.3 L817.0,8.3 M829.8,8.3 L830.3,8.3 L830.8,8.3 L831.3,8.3 L831.8,8.3 L832.3,8.3 L832.8,8.3 L833.3,8.3 L833.8,8.3 L834.3,8.3 L834.8,8.3 L835.3,8.3 L835.8,8.3 L836.3,8.3 L836.8,8.3 L837.3,8.3 L837.8,8.3 L838.3,8.3 L838.8,8.3 L839.3,8.3 L839.8,8.3 L840.3,8.3 L840.8,8.3 L841.3,8.3 L841.5,8.3 M854.3,8.4 L854.8,8.4 L855.3,8.5 L855.8,8.5 L856.3,8.6 L856.8,8.7 L857.3,8.8 L857.8,8.9 L858.3,9.0 L858.8,9.1 L859.2,9.2 L859.7,9.3 L860.2,9.5 L860.7,9.6 L861.2,9.8 L861.6,10.0 L862.1,10.1 L862.6,10.3 L863.0,10.5 L863.5,10.7 L864.0,10.9 L864.4,11.2 L864.8,11.4 L865.1,11.5 M874.5,20.0 L874.8,20.4 L875.1,20.8 L875.3,21.2 L875.6,21.7 L875.8,22.1 L876.1,22.5 L876.3,23.0 L876.5,23.4 L876.8,23.9 L877.0,24.3 L877.2,24.8 L877.4,25.3 L877.5,25.7 L877.7,26.2 L877.9,26.7 L878.0,27.1 L878.2,27.6 L878.3,28.1 L878.5,28.6 L878.6,29.1 L878.7,29.6 L878.8,30.1 L878.8,30.1 M879.3,44.1 L879.3,44.6 L879.3,45.1 L879.3,45.6 L879.3,46.1 L879.3,46.6 L879.3,47.1 L879.3,47.6 L879.3,48.1 L879.3,48.7 L879.3,49.2 L879.3,49.7 L879.2,50.2 L879.2,50.7 L879.2,51.2 L879.1,51.7 L879.0,52.2 L879.0,52.6 L878.9,53.1 L878.8,53.6 L878.7,54.1 L878.6,54.4 M872.0,66.9 L871.7,67.2 L871.3,67.6 L870.9,67.9 L870.6,68.3 L870.2,68.6 L869.8,68.9 L869.4,69.3 L869.1,69.6 L868.7,69.9 L868.3,70.2 L867.8,70.5 L867.4,70.8 L867.0,71.0 L866.6,71.3 L866.2,71.6 L865.7,71.8 L865.3,72.1 L864.8,72.3 L864.4,72.5 L864.0,72.8 L863.7,72.9 M851.0,75.4 L850.5,75.4 L850.0,75.4 L849.5,75.4 L849.0,75.4 L848.5,75.4 L848.0,75.4 L847.5,75.4 L847.0,75.4 L846.5,75.4 L846.0,75.4 L845.5,75.4 L845.0,75.4 L844.5,75.4 L844.0,75.4 L843.5,75.4 L843.0,75.4 L842.5,75.4 L842.0,75.4 L841.5,75.4 L841.0,75.4 L840.5,75.4 L840.0,75.4 L840.0,75.4 M826.5,75.4 L826.0,75.4 L825.5,75.4 L825.0,75.4 L824.5,75.4 L824.0,75.4 L823.5,75.4 L823.0,75.4 L822.5,75.4 L822.0,75.4 L821.5,75.4 L821.0,75.4 L820.5,75.4 L820.0,75.4 L819.5,75.4 L819.0,75.4 L818.5,75.4 L818.0,75.4 L817.5,75.4 L817.0,75.4 L816.5,75.4 L816.0,75.4 L815.5,75.4 L815.5,75.4 M801.0,75.4 L800.5,75.4 L800.0,75.4 L799.5,75.4 L799.0,75.4 L798.5,75.4 L798.0,75.4 L797.5,75.4 L797.0,75.4 L796.5,75.4 L796.0,75.4 L795.5,75.4 L795.0,75.4 L794.5,75.4 L794.0,75.4 L793.5,75.4 L793.0,75.4 L792.5,75.4 L792.0,75.4 L791.5,75.4 L791.0,75.4 L790.8,75.4 M777.2,75.4 L776.7,75.4 L776.2,75.4 L775.7,75.4 L775.2,75.4 L774.7,75.4 L774.2,75.4 L773.7,75.4 L773.2,75.4 L772.7,75.4 L772.2,75.4 L771.7,75.4 L771.2,75.4 L770.7,75.4 L770.2,75.4 L769.7,75.4 L769.2,75.4 L768.7,75.4 L768.2,75.4 L767.7,75.4 L767.2,75.4 L766.7,75.4 L766.2,75.4 L766.0,75.4 M752.7,75.4 L752.2,75.4 L751.7,75.4 L751.2,75.4 L750.7,75.4 L750.2,75.4 L749.7,75.4 L749.2,75.4 L748.7,75.4 L748.2,75.4 L747.7,75.4 L747.2,75.4 L746.7,75.4 L746.2,75.4 L745.7,75.4 L745.2,75.4 L744.7,75.4 L744.2,75.4 L743.7,75.4 L743.2,75.4 L742.7,75.4 L742.5,75.4 M728.2,75.4 L727.7,75.4 L727.2,75.4 L726.7,75.4 L726.2,75.4 L725.7,75.4 L725.2,75.4 L724.7,75.4 L724.2,75.4 L723.7,75.4 L723.2,75.4 L722.7,75.4 L722.2,75.4 L721.7,75.4 L721.2,75.4 L720.7,75.4 L720.2,75.4 L719.7,75.4 L719.2,75.4 L718.7,75.4 L718.2,75.4 L717.7,75.4 L717.2,75.4 L717.0,75.4 M704.4,73.6 L703.9,73.4 L703.5,73.2 L703.0,73.0 L702.5,72.8 L702.1,72.5 L701.7,72.3 L701.2,72.1 L700.8,71.8 L700.3,71.6 L699.9,71.3 L699.5,71.0 L699.1,70.8 L698.7,70.5 L698.2,70.2 L697.8,69.9 L697.4,69.6 L697.1,69.3 L696.7,68.9 L696.3,68.6 L695.9,68.3 L695.6,67.9 L695.2,67.6 L695.2,67.6 M688.0,55.1 L687.9,54.6 L687.8,54.1 L687.7,53.6 L687.6,53.1 L687.5,52.6 L687.5,52.2 L687.4,51.7 L687.3,51.2 L687.3,50.7 L687.3,50.2 L687.2,49.7 L687.2,49.2 L687.2,48.7 L687.2,48.1 L687.2,47.6 L687.2,47.1 L687.2,46.6 L687.2,46.1 L687.2,45.6 L687.2,45.1 L687.2,44.6 L687.2,44.1 L687.2,43.6 L687.2,43.1 L687.2,42.6 L687.2,42.1 L687.2,41.6 L687.2,41.1 L687.2,40.6 L687.2,40.1 L687.2,39.6 L687.2,39.1 L687.2,38.6 L687.2,38.1 L687.2,37.6 L687.2,37.1 L687.2,37.1 M689.7,23.9 L690.0,23.4 L690.2,23.0 L690.4,22.5 L690.7,22.1 L690.9,21.7 L691.2,21.2 L691.4,20.8 L691.7,20.4 L692.0,20.0 L692.3,19.6 L692.6,19.1 L692.9,18.7 L693.2,18.4 L693.5,18.0 L693.8,17.6 L694.2,17.2 L694.5,16.8 L694.8,16.5 L695.2,16.1 L695.6,15.8 L695.9,15.4 L696.3,15.1 L696.5,14.9" fill="none" stroke="#333" stroke-width="2.6" stroke-linecap="butt"/>
<text x="704.58" y="34" class="r" font-size="27.5" textLength="76.3" lengthAdjust="spacingAndGlyphs" fill="#333">single</text>
<text x="720.99" y="66.3" class="r" font-size="27.5" textLength="44.17" lengthAdjust="spacingAndGlyphs" fill="#333">cell</text>
<path d="M854.6,41.0 L854.2,42.8 L853.3,44.4 L852.2,45.9 L851.5,47.4 L851.2,49.1 L851.3,50.9 L851.2,52.8 L850.7,54.6 L849.5,55.9 L847.9,56.9 L846.2,57.6 L844.7,58.4 L843.5,59.6 L842.6,61.1 L841.5,62.7 L840.2,64.0 L838.5,64.6 L836.7,64.6 L834.8,64.3 L833.1,64.1 L831.5,64.4 L829.8,65.1 L828.1,65.9 L826.3,66.4 L824.6,66.1 L823.0,65.2 L821.5,64.0 L820.2,62.8 L818.7,62.1 L817.0,61.7 L815.2,61.5 L813.3,61.0 L811.9,60.0 L810.9,58.4 L810.4,56.6 L809.9,54.9 L809.1,53.4 L808.0,52.2 L806.5,51.0 L805.2,49.7 L804.4,48.1 L804.3,46.2 L804.8,44.4 L805.4,42.7 L805.6,41.0 L805.4,39.3 L804.8,37.6 L804.3,35.8 L804.4,33.9 L805.2,32.3 L806.5,31.0 L808.0,29.8 L809.1,28.6 L809.9,27.1 L810.4,25.4 L810.9,23.6 L811.9,22.0 L813.3,21.0 L815.2,20.5 L817.0,20.3 L818.7,19.9 L820.2,19.2 L821.5,18.0 L823.0,16.8 L824.6,15.9 L826.3,15.6 L828.1,16.1 L829.8,16.9 L831.5,17.6 L833.1,17.9 L834.8,17.7 L836.7,17.4 L838.5,17.4 L840.2,18.0 L841.5,19.3 L842.6,20.9 L843.5,22.4 L844.7,23.6 L846.2,24.4 L847.9,25.1 L849.5,26.1 L850.7,27.4 L851.2,29.2 L851.3,31.1 L851.2,32.9 L851.5,34.6 L852.2,36.1 L853.3,37.6 L854.2,39.2Z" fill="#f4a9a1"/><path d="M849.5,41.0 L848.8,42.4 L848.0,43.7 L847.3,44.9 L847.0,46.2 L847.1,47.6 L847.3,49.1 L847.1,50.6 L846.4,51.9 L845.2,52.8 L843.8,53.4 L842.5,54.0 L841.5,54.9 L840.8,56.1 L840.1,57.5 L839.2,58.7 L838.0,59.5 L836.5,59.7 L835.0,59.5 L833.5,59.2 L832.2,59.3 L831.0,59.9 L829.7,60.7 L828.3,61.3 L826.8,61.5 L825.5,60.9 L824.3,60.0 L823.2,59.0 L822.0,58.3 L820.7,58.0 L819.2,58.0 L817.7,57.8 L816.3,57.2 L815.4,56.1 L814.8,54.7 L814.5,53.2 L813.9,51.9 L813.0,51.0 L811.8,50.1 L810.6,49.2 L809.7,48.0 L809.4,46.6 L809.6,45.1 L810.1,43.7 L810.4,42.3 L810.3,41.0 L809.7,39.7 L809.2,38.2 L808.9,36.7 L809.3,35.4 L810.2,34.2 L811.4,33.2 L812.5,32.2 L813.2,31.1 L813.5,29.7 L813.7,28.2 L814.3,26.8 L815.3,25.7 L816.6,25.2 L818.2,25.0 L819.6,24.8 L820.8,24.2 L821.9,23.3 L822.9,22.2 L824.1,21.2 L825.4,20.7 L826.9,20.9 L828.3,21.5 L829.7,22.2 L830.9,22.5 L832.3,22.3 L833.8,21.9 L835.3,21.7 L836.7,21.9 L837.9,22.8 L838.8,24.0 L839.6,25.3 L840.5,26.3 L841.6,27.0 L843.0,27.4 L844.5,28.0 L845.6,28.9 L846.3,30.2 L846.4,31.7 L846.4,33.3 L846.5,34.6 L847.0,35.8 L848.0,37.0 L848.9,38.2 L849.5,39.6Z" fill="#f7b9b0" opacity="0.4"/><circle cx="829.5" cy="41.5" r="9.5" fill="#d8806d"/>
<line x1="461.5" y1="60" x2="461.5" y2="110" stroke="#2a2a2a" stroke-width="2.6"/>
<path d="M126,112 V94.5 H793 V112" fill="none" stroke="#2a2a2a" stroke-width="2.8" stroke-linejoin="round"/>
<path d="M111.5,112.5 L141,112.5 L126.2,142.5Z" fill="#222"/>
<path d="M446.5,106.5 L476.5,106.5 L461.5,137Z" fill="#222"/>
<path d="M778,112.5 L808,112.5 L793,142.5Z" fill="#222"/>
<text x="45.55" y="167.8" class="b" font-size="33.5" textLength="166.76" lengthAdjust="spacingAndGlyphs" fill="#1c1c1c">Biomimetic</text>
<text x="41.37" y="204.3" class="b" font-size="33.5" textLength="175.44" lengthAdjust="spacingAndGlyphs" fill="#1c1c1c">3D matrices</text>
<text x="426.48" y="182.8" class="b" font-size="33.5" textLength="69.24" lengthAdjust="spacingAndGlyphs" fill="#1c1c1c">AFM</text>
<text x="703.24" y="184.8" class="b" font-size="33.5" textLength="142.97" lengthAdjust="spacingAndGlyphs" fill="#1c1c1c">Nanopore</text>
<rect x="5" y="216.5" width="241" height="287.5" rx="27" fill="none" stroke="#333" stroke-width="2.8"/>
<rect x="339.5" y="216.5" width="240.5" height="287.5" rx="27" fill="none" stroke="#333" stroke-width="2.8"/>
<rect x="623.5" y="216.5" width="299.5" height="287.5" rx="27" fill="none" stroke="#333" stroke-width="2.8"/>
<text x="45.14" y="259.5" class="r" font-size="28.5" textLength="167.55" lengthAdjust="spacingAndGlyphs" fill="#3b3b3b">Ampliﬁcation</text>
<text x="49.42" y="290.5" class="r" font-size="28.5" textLength="157.74" lengthAdjust="spacingAndGlyphs" fill="#3b3b3b">and analysis</text>
<text x="359.75" y="243.4" class="r" font-size="28.5" textLength="200.75" lengthAdjust="spacingAndGlyphs" fill="#3b3b3b">Mechanical and</text>
<text x="369.02" y="274.8" class="r" font-size="28.5" textLength="182.68" lengthAdjust="spacingAndGlyphs" fill="#3b3b3b">morphological</text>
<text x="358.01" y="306.8" class="r" font-size="28.5" textLength="204.17" lengthAdjust="spacingAndGlyphs" fill="#3b3b3b">characterization</text>
<text x="668.07" y="243.5" class="r" font-size="28.5" textLength="210.85" lengthAdjust="spacingAndGlyphs" fill="#3b3b3b">Single biomarker</text>
<text x="665.44" y="275.4" class="r" font-size="28.5" textLength="218.25" lengthAdjust="spacingAndGlyphs" fill="#3b3b3b">identiﬁcation and</text>
<text x="688.12" y="307.5" class="r" font-size="28.5" textLength="174.42" lengthAdjust="spacingAndGlyphs" fill="#3b3b3b">quantiﬁcation</text>
<defs><filter id="sb" x="-5%" y="-5%" width="110%" height="110%"><feGaussianBlur stdDeviation="0.7"/></filter></defs><g filter="url(#sb)"><defs><clipPath id="cs"><path d="M23.0,342.8 L23.1,339.8 L23.4,338.2 L23.9,337.2 L24.6,336.8 L25.5,336.7 L26.6,334.1 L27.9,332.0 L29.3,332.5 L31.0,332.5 L32.9,328.8 L34.9,327.6 L37.1,326.4 L39.5,327.3 L42.0,326.9 L44.7,323.7 L47.6,322.3 L50.6,321.9 L53.7,323.2 L57.0,321.2 L60.5,319.1 L64.0,319.3 L67.7,319.1 L71.5,319.1 L75.4,316.5 L79.3,315.9 L83.4,316.5 L87.5,317.0 L91.8,316.2 L96.0,314.4 L100.4,314.4 L104.7,315.8 L109.1,315.0 L113.6,314.0 L118.0,313.5 L122.5,313.9 L127.0,316.3 L131.4,313.7 L135.9,313.8 L140.3,313.8 L144.6,314.7 L149.0,317.0 L153.2,315.0 L157.5,315.4 L161.6,315.9 L165.7,319.2 L169.6,317.4 L173.5,317.2 L177.3,318.4 L181.0,320.7 L184.5,321.2 L188.0,320.6 L191.3,320.7 L194.4,322.1 L197.4,325.3 L200.3,324.2 L203.0,324.8 L205.5,325.6 L207.9,329.3 L210.1,329.1 L212.1,329.1 L214.0,330.1 L215.7,331.1 L217.1,334.1 L218.4,334.0 L219.5,334.6 L220.4,335.8 L221.1,338.4 L221.6,339.4 L221.9,339.9 L222.0,340.4 L222.8,346.1 L223.2,350.1 L221.8,354.1 L221.8,358.2 L220.7,362.2 L220.8,366.3 L221.4,370.4 L221.2,374.4 L222.7,378.4 L220.9,382.5 L220.6,386.6 L223.1,390.6 L221.9,394.6 L220.9,398.7 L222.0,402.8 L220.6,406.8 L221.9,410.9 L223.1,414.9 L222.8,418.9 L222.4,423.0 L221.2,427.1 L221.5,431.1 L221.0,435.1 L222.6,439.2 L221.9,443.2 L222.6,447.3 L221.4,451.4 L221.1,455.4 L222.7,459.4 L222.0,464.6 L221.9,464.6 L221.5,464.0 L220.8,466.0 L219.8,467.5 L218.6,469.4 L217.1,469.6 L215.4,470.2 L213.4,473.3 L211.2,473.5 L208.7,474.2 L205.9,474.2 L203.0,476.4 L199.8,477.6 L196.4,477.5 L192.9,477.9 L189.1,478.5 L185.1,479.6 L181.0,481.1 L176.7,481.3 L172.2,480.4 L167.7,482.7 L163.0,482.6 L158.2,484.4 L153.2,481.9 L148.3,483.5 L143.2,484.3 L138.1,484.6 L132.9,485.7 L127.7,483.1 L122.5,484.6 L117.3,485.7 L112.1,484.9 L106.9,483.7 L101.8,482.5 L96.7,483.4 L91.8,484.0 L86.8,483.5 L82.0,481.3 L77.3,482.4 L72.8,482.4 L68.3,481.8 L64.0,479.9 L59.9,478.5 L55.9,479.5 L52.1,478.9 L48.6,477.8 L45.2,474.9 L42.0,475.0 L39.1,475.8 L36.3,474.8 L33.8,472.4 L31.6,470.8 L29.6,471.3 L27.9,470.7 L26.4,469.1 L25.2,466.8 L24.2,467.4 L23.5,466.3 L23.1,465.2 L23.0,463.1 L23.0,459.4 L22.0,455.4 L22.4,451.4 L22.0,447.3 L23.6,443.2 L23.9,439.2 L24.2,435.1 L22.2,431.1 L23.7,427.1 L23.6,423.0 L22.2,418.9 L24.2,414.9 L24.4,410.9 L22.4,406.8 L24.4,402.8 L22.9,398.7 L23.1,394.6 L24.5,390.6 L24.0,386.6 L22.2,382.5 L23.0,378.4 L23.2,374.4 L22.7,370.4 L22.3,366.3 L22.7,362.2 L23.7,358.2 L21.9,354.1 L23.3,350.1 L23.0,346.1Z"/></clipPath><clipPath id="ct"><path d="M23,342 A99.5,27.5 0 0 1 222,342 A99.5,27.5 0 0 1 23,342Z"/></clipPath></defs><path d="M23.0,342.8 L23.1,339.8 L23.4,338.2 L23.9,337.2 L24.6,336.8 L25.5,336.7 L26.6,334.1 L27.9,332.0 L29.3,332.5 L31.0,332.5 L32.9,328.8 L34.9,327.6 L37.1,326.4 L39.5,327.3 L42.0,326.9 L44.7,323.7 L47.6,322.3 L50.6,321.9 L53.7,323.2 L57.0,321.2 L60.5,319.1 L64.0,319.3 L67.7,319.1 L71.5,319.1 L75.4,316.5 L79.3,315.9 L83.4,316.5 L87.5,317.0 L91.8,316.2 L96.0,314.4 L100.4,314.4 L104.7,315.8 L109.1,315.0 L113.6,314.0 L118.0,313.5 L122.5,313.9 L127.0,316.3 L131.4,313.7 L135.9,313.8 L140.3,313.8 L144.6,314.7 L149.0,317.0 L153.2,315.0 L157.5,315.4 L161.6,315.9 L165.7,319.2 L169.6,317.4 L173.5,317.2 L177.3,318.4 L181.0,320.7 L184.5,321.2 L188.0,320.6 L191.3,320.7 L194.4,322.1 L197.4,325.3 L200.3,324.2 L203.0,324.8 L205.5,325.6 L207.9,329.3 L210.1,329.1 L212.1,329.1 L214.0,330.1 L215.7,331.1 L217.1,334.1 L218.4,334.0 L219.5,334.6 L220.4,335.8 L221.1,338.4 L221.6,339.4 L221.9,339.9 L222.0,340.4 L222.8,346.1 L223.2,350.1 L221.8,354.1 L221.8,358.2 L220.7,362.2 L220.8,366.3 L221.4,370.4 L221.2,374.4 L222.7,378.4 L220.9,382.5 L220.6,386.6 L223.1,390.6 L221.9,394.6 L220.9,398.7 L222.0,402.8 L220.6,406.8 L221.9,410.9 L223.1,414.9 L222.8,418.9 L222.4,423.0 L221.2,427.1 L221.5,431.1 L221.0,435.1 L222.6,439.2 L221.9,443.2 L222.6,447.3 L221.4,451.4 L221.1,455.4 L222.7,459.4 L222.0,464.6 L221.9,464.6 L221.5,464.0 L220.8,466.0 L219.8,467.5 L218.6,469.4 L217.1,469.6 L215.4,470.2 L213.4,473.3 L211.2,473.5 L208.7,474.2 L205.9,474.2 L203.0,476.4 L199.8,477.6 L196.4,477.5 L192.9,477.9 L189.1,478.5 L185.1,479.6 L181.0,481.1 L176.7,481.3 L172.2,480.4 L167.7,482.7 L163.0,482.6 L158.2,484.4 L153.2,481.9 L148.3,483.5 L143.2,484.3 L138.1,484.6 L132.9,485.7 L127.7,483.1 L122.5,484.6 L117.3,485.7 L112.1,484.9 L106.9,483.7 L101.8,482.5 L96.7,483.4 L91.8,484.0 L86.8,483.5 L82.0,481.3 L77.3,482.4 L72.8,482.4 L68.3,481.8 L64.0,479.9 L59.9,478.5 L55.9,479.5 L52.1,478.9 L48.6,477.8 L45.2,474.9 L42.0,475.0 L39.1,475.8 L36.3,474.8 L33.8,472.4 L31.6,470.8 L29.6,471.3 L27.9,470.7 L26.4,469.1 L25.2,466.8 L24.2,467.4 L23.5,466.3 L23.1,465.2 L23.0,463.1 L23.0,459.4 L22.0,455.4 L22.4,451.4 L22.0,447.3 L23.6,443.2 L23.9,439.2 L24.2,435.1 L22.2,431.1 L23.7,427.1 L23.6,423.0 L22.2,418.9 L24.2,414.9 L24.4,410.9 L22.4,406.8 L24.4,402.8 L22.9,398.7 L23.1,394.6 L24.5,390.6 L24.0,386.6 L22.2,382.5 L23.0,378.4 L23.2,374.4 L22.7,370.4 L22.3,366.3 L22.7,362.2 L23.7,358.2 L21.9,354.1 L23.3,350.1 L23.0,346.1Z" fill="#c3c3c3"/><g clip-path="url(#cs)"><ellipse cx="18.0" cy="387.0" rx="2.9" ry="4.3" fill="#959595"/><ellipse cx="151.3" cy="416.0" rx="3.4" ry="4.0" fill="#959595"/><ellipse cx="28.1" cy="491.6" rx="3.6" ry="3.7" fill="#959595"/><ellipse cx="187.4" cy="489.5" rx="4.2" ry="3.6" fill="#959595"/><ellipse cx="37.1" cy="376.5" rx="3.7" ry="3.5" fill="#959595"/><ellipse cx="22.7" cy="458.6" rx="4.0" ry="6.2" fill="#959595"/><ellipse cx="73.5" cy="354.7" rx="4.7" ry="5.0" fill="#959595"/><ellipse cx="106.9" cy="479.8" rx="3.0" ry="2.5" fill="#959595"/><ellipse cx="194.2" cy="375.4" rx="4.1" ry="3.8" fill="#959595"/><ellipse cx="46.9" cy="481.1" rx="3.7" ry="3.4" fill="#959595"/><ellipse cx="139.5" cy="446.1" rx="4.0" ry="4.6" fill="#959595"/><ellipse cx="33.7" cy="343.2" rx="3.0" ry="3.0" fill="#959595"/><ellipse cx="165.4" cy="402.1" rx="2.8" ry="2.6" fill="#959595"/><ellipse cx="153.6" cy="462.3" rx="5.2" ry="5.8" fill="#959595"/><ellipse cx="32.4" cy="471.0" rx="3.7" ry="3.5" fill="#959595"/><ellipse cx="113.8" cy="388.3" rx="4.3" ry="4.6" fill="#959595"/><ellipse cx="135.7" cy="482.3" rx="5.0" ry="4.4" fill="#959595"/><ellipse cx="129.9" cy="372.1" rx="3.9" ry="7.4" fill="#959595"/><ellipse cx="38.1" cy="359.8" rx="3.9" ry="3.8" fill="#959595"/><ellipse cx="25.1" cy="366.3" rx="2.9" ry="3.3" fill="#959595"/><ellipse cx="82.6" cy="382.8" rx="3.2" ry="5.0" fill="#959595"/><ellipse cx="181.1" cy="380.4" rx="4.3" ry="5.1" fill="#959595"/><ellipse cx="90.3" cy="336.9" rx="3.1" ry="2.9" fill="#959595"/><ellipse cx="69.1" cy="336.5" rx="4.6" ry="4.1" fill="#959595"/><ellipse cx="175.3" cy="422.2" rx="3.4" ry="3.8" fill="#959595"/><ellipse cx="55.7" cy="410.0" rx="4.8" ry="7.0" fill="#959595"/><ellipse cx="219.6" cy="351.0" rx="3.8" ry="6.5" fill="#959595"/><ellipse cx="194.2" cy="403.1" rx="2.9" ry="2.6" fill="#959595"/><ellipse cx="122.9" cy="467.5" rx="3.0" ry="3.4" fill="#959595"/><ellipse cx="100.5" cy="415.1" rx="2.8" ry="4.5" fill="#959595"/><ellipse cx="165.3" cy="491.2" rx="5.0" ry="5.4" fill="#959595"/><ellipse cx="89.4" cy="467.2" rx="4.5" ry="4.0" fill="#959595"/><ellipse cx="169.5" cy="435.8" rx="3.2" ry="3.4" fill="#959595"/><ellipse cx="205.5" cy="441.3" rx="3.8" ry="4.0" fill="#959595"/><ellipse cx="78.5" cy="407.5" rx="4.7" ry="4.9" fill="#959595"/><ellipse cx="71.9" cy="487.9" rx="4.7" ry="4.4" fill="#959595"/><ellipse cx="228.0" cy="421.5" rx="4.3" ry="5.0" fill="#959595"/><ellipse cx="118.4" cy="414.4" rx="4.4" ry="4.0" fill="#959595"/><ellipse cx="33.7" cy="397.9" rx="3.6" ry="3.9" fill="#959595"/><ellipse cx="171.5" cy="474.7" rx="4.6" ry="4.6" fill="#959595"/><ellipse cx="99.7" cy="386.2" rx="3.8" ry="4.6" fill="#959595"/><ellipse cx="230.6" cy="357.9" rx="3.1" ry="2.8" fill="#959595"/><ellipse cx="44.6" cy="417.8" rx="4.4" ry="4.7" fill="#959595"/><ellipse cx="191.0" cy="466.2" rx="4.8" ry="6.9" fill="#959595"/><ellipse cx="121.6" cy="334.5" rx="2.9" ry="3.3" fill="#959595"/><ellipse cx="159.0" cy="344.6" rx="4.3" ry="4.4" fill="#959595"/><ellipse cx="174.5" cy="366.8" rx="4.5" ry="4.1" fill="#959595"/><ellipse cx="119.4" cy="443.4" rx="4.4" ry="3.8" fill="#959595"/><ellipse cx="138.9" cy="336.0" rx="2.8" ry="2.8" fill="#959595"/><ellipse cx="162.7" cy="380.5" rx="3.9" ry="5.9" fill="#959595"/><ellipse cx="116.6" cy="353.0" rx="5.0" ry="7.7" fill="#959595"/><ellipse cx="210.6" cy="365.9" rx="4.7" ry="6.6" fill="#959595"/><ellipse cx="229.2" cy="483.8" rx="3.5" ry="4.1" fill="#959595"/><ellipse cx="17.9" cy="407.4" rx="3.3" ry="4.7" fill="#959595"/><ellipse cx="60.4" cy="427.0" rx="4.4" ry="4.6" fill="#959595"/><ellipse cx="45.0" cy="389.0" rx="4.8" ry="4.9" fill="#959595"/><ellipse cx="198.6" cy="353.2" rx="5.2" ry="4.9" fill="#959595"/><ellipse cx="217.8" cy="448.1" rx="3.5" ry="3.0" fill="#959595"/><ellipse cx="212.3" cy="380.4" rx="3.7" ry="3.2" fill="#959595"/><ellipse cx="93.4" cy="402.5" rx="5.2" ry="5.4" fill="#959595"/><ellipse cx="68.9" cy="376.5" rx="3.6" ry="6.5" fill="#959595"/><ellipse cx="208.5" cy="463.9" rx="5.4" ry="4.8" fill="#959595"/><ellipse cx="152.8" cy="480.1" rx="2.9" ry="5.2" fill="#959595"/><ellipse cx="172.3" cy="341.9" rx="4.6" ry="4.5" fill="#959595"/><ellipse cx="79.5" cy="452.2" rx="4.6" ry="4.8" fill="#959595"/><ellipse cx="228.8" cy="375.6" rx="3.5" ry="3.1" fill="#959595"/><ellipse cx="136.6" cy="397.1" rx="4.1" ry="4.3" fill="#959595"/><ellipse cx="59.7" cy="479.0" rx="3.2" ry="5.2" fill="#959595"/><ellipse cx="213.4" cy="493.4" rx="5.3" ry="4.8" fill="#959595"/><ellipse cx="56.3" cy="348.5" rx="3.2" ry="3.7" fill="#959595"/><ellipse cx="178.9" cy="400.0" rx="5.2" ry="5.5" fill="#959595"/><ellipse cx="223.9" cy="469.8" rx="3.0" ry="2.7" fill="#959595"/><ellipse cx="206.0" cy="337.5" rx="4.6" ry="4.2" fill="#959595"/><ellipse cx="211.1" cy="409.7" rx="4.7" ry="8.6" fill="#959595"/><ellipse cx="154.0" cy="445.8" rx="4.6" ry="4.2" fill="#959595"/><ellipse cx="129.4" cy="427.3" rx="3.3" ry="4.6" fill="#959595"/><ellipse cx="99.4" cy="369.8" rx="3.9" ry="4.6" fill="#959595"/><ellipse cx="225.0" cy="437.1" rx="3.6" ry="3.6" fill="#959595"/><ellipse cx="189.4" cy="452.3" rx="3.4" ry="3.3" fill="#959595"/><ellipse cx="62.7" cy="455.7" rx="3.3" ry="3.1" fill="#959595"/><ellipse cx="51.2" cy="334.5" rx="5.1" ry="4.8" fill="#959595"/><ellipse cx="104.4" cy="463.9" rx="4.0" ry="4.6" fill="#959595"/><ellipse cx="221.5" cy="337.9" rx="3.2" ry="3.3" fill="#959595"/><ellipse cx="147.6" cy="386.4" rx="4.5" ry="4.6" fill="#959595"/><ellipse cx="186.1" cy="346.6" rx="3.0" ry="2.7" fill="#959595"/><ellipse cx="21.5" cy="422.4" rx="4.7" ry="5.0" fill="#959595"/><ellipse cx="85.7" cy="490.8" rx="4.1" ry="3.9" fill="#959595"/><ellipse cx="65.5" cy="400.7" rx="4.3" ry="4.1" fill="#959595"/><ellipse cx="101.1" cy="492.8" rx="3.4" ry="3.2" fill="#959595"/><ellipse cx="191.9" cy="438.5" rx="3.4" ry="5.7" fill="#959595"/><ellipse cx="198.9" cy="480.3" rx="3.1" ry="3.4" fill="#959595"/><ellipse cx="218.6" cy="393.6" rx="3.8" ry="4.0" fill="#959595"/><ellipse cx="145.2" cy="433.2" rx="3.1" ry="4.5" fill="#959595"/><ellipse cx="157.4" cy="366.6" rx="4.0" ry="3.9" fill="#959595"/><ellipse cx="82.7" cy="366.5" rx="3.6" ry="3.6" fill="#959595"/><ellipse cx="189.0" cy="421.7" rx="3.7" ry="4.4" fill="#959595"/><ellipse cx="50.0" cy="445.3" rx="3.3" ry="5.6" fill="#959595"/><ellipse cx="82.7" cy="424.6" rx="3.4" ry="3.4" fill="#959595"/><ellipse cx="15.3" cy="478.3" rx="3.8" ry="5.6" fill="#959595"/><ellipse cx="33.6" cy="433.6" rx="2.8" ry="2.8" fill="#959595"/><ellipse cx="106.4" cy="427.2" rx="3.2" ry="3.5" fill="#959595"/><ellipse cx="175.4" cy="458.4" rx="4.4" ry="5.0" fill="#959595"/><ellipse cx="122.2" cy="487.1" rx="2.6" ry="2.6" fill="#959595"/><ellipse cx="206.0" cy="422.8" rx="3.5" ry="4.1" fill="#959595"/><ellipse cx="143.6" cy="366.7" rx="3.9" ry="4.2" fill="#959595"/><ellipse cx="16.5" cy="437.2" rx="4.3" ry="4.5" fill="#959595"/><ellipse cx="72.4" cy="436.7" rx="2.7" ry="2.7" fill="#959595"/><ellipse cx="20.3" cy="340.7" rx="2.6" ry="3.0" fill="#959595"/><ellipse cx="56.1" cy="382.2" rx="3.3" ry="2.9" fill="#959595"/><ellipse cx="150.7" cy="399.5" rx="3.7" ry="3.7" fill="#959595"/><ellipse cx="49.4" cy="459.1" rx="2.6" ry="3.0" fill="#959595"/><ellipse cx="106.5" cy="445.7" rx="4.3" ry="4.7" fill="#959595"/><ellipse cx="91.7" cy="436.2" rx="3.0" ry="3.4" fill="#959595"/><ellipse cx="134.6" cy="354.0" rx="3.9" ry="4.2" fill="#959595"/><ellipse cx="135.8" cy="461.6" rx="5.0" ry="5.0" fill="#959595"/><ellipse cx="116.4" cy="367.1" rx="5.0" ry="7.1" fill="#959595"/><ellipse cx="55.6" cy="364.8" rx="5.3" ry="5.3" fill="#959595"/><ellipse cx="233.4" cy="393.8" rx="5.0" ry="5.1" fill="#959595"/><ellipse cx="212.6" cy="478.7" rx="3.0" ry="3.6" fill="#959595"/><ellipse cx="191.5" cy="388.5" rx="4.3" ry="5.1" fill="#959595"/><ellipse cx="103.2" cy="355.9" rx="3.2" ry="3.4" fill="#959595"/><ellipse cx="136.5" cy="412.6" rx="4.0" ry="4.6" fill="#959595"/><ellipse cx="232.3" cy="454.1" rx="3.9" ry="4.2" fill="#959595"/><ellipse cx="32.5" cy="448.7" rx="3.1" ry="5.4" fill="#959595"/><ellipse cx="144.3" cy="493.2" rx="5.1" ry="4.5" fill="#959595"/><ellipse cx="69.4" cy="468.1" rx="4.1" ry="4.0" fill="#959595"/><ellipse cx="159.0" cy="427.9" rx="2.8" ry="3.1" fill="#959595"/><ellipse cx="94.0" cy="449.6" rx="5.2" ry="9.4" fill="#959595"/><ellipse cx="233.9" cy="407.1" rx="5.3" ry="5.7" fill="#959595"/><ellipse cx="188.9" cy="363.3" rx="3.3" ry="3.7" fill="#959595"/><ellipse cx="93.8" cy="480.1" rx="3.4" ry="3.3" fill="#959595"/><ellipse cx="127.4" cy="385.8" rx="3.1" ry="5.3" fill="#959595"/><ellipse cx="87.8" cy="350.4" rx="4.9" ry="5.9" fill="#959595"/><ellipse cx="110.6" cy="401.4" rx="4.1" ry="7.0" fill="#959595"/><ellipse cx="105.6" cy="339.4" rx="3.4" ry="4.0" fill="#959595"/><ellipse cx="70.8" cy="418.5" rx="3.2" ry="3.6" fill="#959595"/><ellipse cx="15.1" cy="355.2" rx="5.3" ry="8.8" fill="#959595"/><ellipse cx="31.6" cy="411.9" rx="3.6" ry="5.2" fill="#959595"/><ellipse cx="54.0" cy="492.4" rx="2.9" ry="3.3" fill="#959595"/><ellipse cx="204.7" cy="392.8" rx="4.8" ry="5.4" fill="#959595"/><ellipse cx="148.3" cy="354.4" rx="2.8" ry="3.2" fill="#959595"/><ellipse cx="14.8" cy="491.9" rx="4.1" ry="4.8" fill="#959595"/><ellipse cx="166.0" cy="355.9" rx="3.3" ry="2.9" fill="#959595"/><ellipse cx="191.7" cy="334.3" rx="5.4" ry="5.3" fill="#959595"/><ellipse cx="123.5" cy="399.1" rx="3.3" ry="5.3" fill="#959595"/><ellipse cx="233.5" cy="343.7" rx="3.8" ry="5.4" fill="#959595"/><ellipse cx="80.2" cy="477.3" rx="5.1" ry="5.9" fill="#959595"/></g><g clip-path="url(#cs)"><path d="M23,342 A99.5,27.5 0 0 1 222,342 A99.5,27.5 0 0 1 23,342Z" fill="#d8dada"/></g><g clip-path="url(#cs)"><g clip-path="url(#ct)"><ellipse cx="91.3" cy="357.1" rx="4.0" ry="2.2" fill="#a2a3a3"/><ellipse cx="216.8" cy="364.1" rx="3.3" ry="2.1" fill="#a2a3a3"/><ellipse cx="75.3" cy="315.0" rx="3.5" ry="2.3" fill="#a2a3a3"/><ellipse cx="217.6" cy="308.0" rx="5.5" ry="3.5" fill="#a2a3a3"/><ellipse cx="196.9" cy="344.2" rx="3.8" ry="2.7" fill="#a2a3a3"/><ellipse cx="193.3" cy="321.5" rx="3.4" ry="2.3" fill="#a2a3a3"/><ellipse cx="57.3" cy="377.2" rx="3.2" ry="2.1" fill="#a2a3a3"/><ellipse cx="155.0" cy="361.1" rx="3.1" ry="1.8" fill="#a2a3a3"/><ellipse cx="137.5" cy="363.1" rx="3.6" ry="2.2" fill="#a2a3a3"/><ellipse cx="24.3" cy="345.8" rx="3.9" ry="2.3" fill="#a2a3a3"/><ellipse cx="155.7" cy="307.4" rx="3.9" ry="2.6" fill="#a2a3a3"/><ellipse cx="157.0" cy="318.2" rx="5.3" ry="3.2" fill="#a2a3a3"/><ellipse cx="123.0" cy="315.1" rx="3.9" ry="2.6" fill="#a2a3a3"/><ellipse cx="85.6" cy="344.1" rx="4.5" ry="2.8" fill="#a2a3a3"/><ellipse cx="72.7" cy="333.7" rx="4.6" ry="2.9" fill="#a2a3a3"/><ellipse cx="73.1" cy="349.3" rx="3.2" ry="2.1" fill="#a2a3a3"/><ellipse cx="134.8" cy="339.8" rx="5.0" ry="2.7" fill="#a2a3a3"/><ellipse cx="52.1" cy="324.5" rx="3.2" ry="1.9" fill="#a2a3a3"/><ellipse cx="57.3" cy="348.5" rx="4.0" ry="2.2" fill="#a2a3a3"/><ellipse cx="24.4" cy="324.5" rx="3.8" ry="2.6" fill="#a2a3a3"/><ellipse cx="112.6" cy="344.2" rx="4.4" ry="2.9" fill="#a2a3a3"/><ellipse cx="166.2" cy="350.0" rx="3.3" ry="2.0" fill="#a2a3a3"/><ellipse cx="34.3" cy="375.9" rx="3.1" ry="1.8" fill="#a2a3a3"/><ellipse cx="219.4" cy="344.0" rx="4.4" ry="2.5" fill="#a2a3a3"/><ellipse cx="154.5" cy="371.6" rx="3.8" ry="2.6" fill="#a2a3a3"/><ellipse cx="155.4" cy="330.9" rx="4.3" ry="2.7" fill="#a2a3a3"/><ellipse cx="106.7" cy="364.1" rx="5.0" ry="2.8" fill="#a2a3a3"/><ellipse cx="115.5" cy="369.8" rx="3.3" ry="2.2" fill="#a2a3a3"/><ellipse cx="166.8" cy="320.9" rx="5.4" ry="3.2" fill="#a2a3a3"/><ellipse cx="181.1" cy="331.8" rx="5.3" ry="3.0" fill="#a2a3a3"/><ellipse cx="61.4" cy="335.9" rx="4.3" ry="2.8" fill="#a2a3a3"/><ellipse cx="101.8" cy="353.8" rx="3.3" ry="2.0" fill="#a2a3a3"/><ellipse cx="72.8" cy="370.0" rx="5.3" ry="3.5" fill="#a2a3a3"/><ellipse cx="192.6" cy="370.3" rx="4.9" ry="3.1" fill="#a2a3a3"/><ellipse cx="38.4" cy="343.3" rx="5.0" ry="3.0" fill="#a2a3a3"/><ellipse cx="137.9" cy="352.2" rx="4.5" ry="2.7" fill="#a2a3a3"/><ellipse cx="102.4" cy="313.4" rx="3.5" ry="2.1" fill="#a2a3a3"/><ellipse cx="137.8" cy="307.0" rx="4.8" ry="3.0" fill="#a2a3a3"/><ellipse cx="61.5" cy="316.5" rx="5.0" ry="3.1" fill="#a2a3a3"/><ellipse cx="198.0" cy="332.7" rx="4.3" ry="3.0" fill="#a2a3a3"/><ellipse cx="166.2" cy="365.8" rx="4.7" ry="2.6" fill="#a2a3a3"/><ellipse cx="178.8" cy="358.9" rx="4.8" ry="3.1" fill="#a2a3a3"/><ellipse cx="206.9" cy="373.1" rx="3.9" ry="2.2" fill="#a2a3a3"/><ellipse cx="47.6" cy="359.0" rx="4.9" ry="3.4" fill="#a2a3a3"/><ellipse cx="217.2" cy="326.0" rx="3.2" ry="1.9" fill="#a2a3a3"/><ellipse cx="206.3" cy="355.5" rx="3.8" ry="2.3" fill="#a2a3a3"/><ellipse cx="86.9" cy="323.7" rx="3.2" ry="2.0" fill="#a2a3a3"/><ellipse cx="132.1" cy="329.9" rx="3.9" ry="2.2" fill="#a2a3a3"/><ellipse cx="142.3" cy="376.4" rx="4.6" ry="2.5" fill="#a2a3a3"/><ellipse cx="25.1" cy="369.8" rx="3.7" ry="2.3" fill="#a2a3a3"/><ellipse cx="190.6" cy="310.9" rx="3.2" ry="2.1" fill="#a2a3a3"/><ellipse cx="20.4" cy="308.0" rx="3.9" ry="2.4" fill="#a2a3a3"/><ellipse cx="228.9" cy="349.3" rx="4.8" ry="3.0" fill="#a2a3a3"/><ellipse cx="101.8" cy="326.0" rx="3.0" ry="2.0" fill="#a2a3a3"/><ellipse cx="96.2" cy="375.9" rx="5.2" ry="3.6" fill="#a2a3a3"/><ellipse cx="145.8" cy="313.4" rx="5.5" ry="3.4" fill="#a2a3a3"/><ellipse cx="135.9" cy="317.2" rx="4.7" ry="3.3" fill="#a2a3a3"/><ellipse cx="181.9" cy="373.9" rx="5.0" ry="2.9" fill="#a2a3a3"/><ellipse cx="231.4" cy="313.8" rx="5.5" ry="3.1" fill="#a2a3a3"/><ellipse cx="230.0" cy="333.1" rx="5.5" ry="3.4" fill="#a2a3a3"/><ellipse cx="46.4" cy="377.9" rx="5.5" ry="3.3" fill="#a2a3a3"/><ellipse cx="14.2" cy="319.1" rx="4.0" ry="2.5" fill="#a2a3a3"/><ellipse cx="207.3" cy="341.6" rx="5.0" ry="3.4" fill="#a2a3a3"/><ellipse cx="118.8" cy="324.8" rx="3.6" ry="2.5" fill="#a2a3a3"/><ellipse cx="123.5" cy="376.5" rx="5.1" ry="3.3" fill="#a2a3a3"/><ellipse cx="38.7" cy="313.9" rx="4.7" ry="3.3" fill="#a2a3a3"/><ellipse cx="204.0" cy="306.3" rx="4.5" ry="2.9" fill="#a2a3a3"/><ellipse cx="45.3" cy="332.3" rx="3.8" ry="2.3" fill="#a2a3a3"/><ellipse cx="30.7" cy="336.5" rx="4.1" ry="2.9" fill="#a2a3a3"/><ellipse cx="180.9" cy="306.3" rx="4.3" ry="2.8" fill="#a2a3a3"/><ellipse cx="25.6" cy="356.5" rx="4.6" ry="3.1" fill="#a2a3a3"/><ellipse cx="59.3" cy="306.5" rx="4.4" ry="3.0" fill="#a2a3a3"/><ellipse cx="124.4" cy="351.8" rx="3.8" ry="2.2" fill="#a2a3a3"/><ellipse cx="143.0" cy="331.6" rx="5.3" ry="3.7" fill="#a2a3a3"/><ellipse cx="228.1" cy="363.1" rx="3.3" ry="2.0" fill="#a2a3a3"/><ellipse cx="164.4" cy="337.4" rx="5.3" ry="3.0" fill="#a2a3a3"/><ellipse cx="194.3" cy="355.6" rx="5.5" ry="3.8" fill="#a2a3a3"/><ellipse cx="153.9" cy="347.7" rx="3.1" ry="1.8" fill="#a2a3a3"/><ellipse cx="186.3" cy="346.9" rx="5.4" ry="3.4" fill="#a2a3a3"/><ellipse cx="57.5" cy="365.3" rx="5.3" ry="3.5" fill="#a2a3a3"/><ellipse cx="98.2" cy="337.4" rx="3.9" ry="2.6" fill="#a2a3a3"/><ellipse cx="47.0" cy="348.5" rx="5.5" ry="3.6" fill="#a2a3a3"/><ellipse cx="69.9" cy="360.3" rx="5.1" ry="3.4" fill="#a2a3a3"/><ellipse cx="17.6" cy="335.0" rx="4.4" ry="2.9" fill="#a2a3a3"/><ellipse cx="82.8" cy="377.8" rx="5.3" ry="3.2" fill="#a2a3a3"/><ellipse cx="122.6" cy="336.9" rx="5.1" ry="3.2" fill="#a2a3a3"/><ellipse cx="125.4" cy="365.1" rx="4.0" ry="2.8" fill="#a2a3a3"/><ellipse cx="88.1" cy="306.3" rx="3.7" ry="2.4" fill="#a2a3a3"/><ellipse cx="216.8" cy="377.3" rx="4.5" ry="3.0" fill="#a2a3a3"/><ellipse cx="80.2" cy="360.7" rx="3.8" ry="2.5" fill="#a2a3a3"/><ellipse cx="181.0" cy="320.4" rx="4.8" ry="3.3" fill="#a2a3a3"/><ellipse cx="86.7" cy="334.2" rx="3.8" ry="2.1" fill="#a2a3a3"/><ellipse cx="36.1" cy="355.4" rx="3.2" ry="2.1" fill="#a2a3a3"/><ellipse cx="15.4" cy="374.0" rx="3.4" ry="1.8" fill="#a2a3a3"/><ellipse cx="166.6" cy="306.1" rx="3.4" ry="2.0" fill="#a2a3a3"/><ellipse cx="89.0" cy="366.8" rx="4.6" ry="3.0" fill="#a2a3a3"/><ellipse cx="107.8" cy="377.0" rx="4.0" ry="2.3" fill="#a2a3a3"/><ellipse cx="35.7" cy="326.6" rx="5.4" ry="3.0" fill="#a2a3a3"/><ellipse cx="204.2" cy="322.4" rx="4.9" ry="3.3" fill="#a2a3a3"/><ellipse cx="227.1" cy="377.7" rx="3.9" ry="2.2" fill="#a2a3a3"/><ellipse cx="176.7" cy="343.1" rx="4.4" ry="2.5" fill="#a2a3a3"/><ellipse cx="49.0" cy="313.0" rx="3.3" ry="2.0" fill="#a2a3a3"/><ellipse cx="114.6" cy="309.5" rx="3.6" ry="2.0" fill="#a2a3a3"/><ellipse cx="110.5" cy="332.3" rx="5.3" ry="3.3" fill="#a2a3a3"/><ellipse cx="37.0" cy="365.5" rx="4.1" ry="2.7" fill="#a2a3a3"/><ellipse cx="14.5" cy="349.9" rx="3.7" ry="2.3" fill="#a2a3a3"/><ellipse cx="70.2" cy="323.8" rx="4.8" ry="2.8" fill="#a2a3a3"/><ellipse cx="15.3" cy="360.0" rx="5.3" ry="3.4" fill="#a2a3a3"/><ellipse cx="171.4" cy="374.3" rx="4.0" ry="2.5" fill="#a2a3a3"/><ellipse cx="28.5" cy="314.4" rx="5.4" ry="3.3" fill="#a2a3a3"/><ellipse cx="226.8" cy="322.9" rx="3.3" ry="2.0" fill="#a2a3a3"/><ellipse cx="219.7" cy="354.2" rx="4.8" ry="2.7" fill="#a2a3a3"/><ellipse cx="145.1" cy="342.0" rx="5.3" ry="3.1" fill="#a2a3a3"/><ellipse cx="117.0" cy="358.9" rx="3.7" ry="2.1" fill="#a2a3a3"/><ellipse cx="132.9" cy="372.8" rx="4.5" ry="2.7" fill="#a2a3a3"/><ellipse cx="201.1" cy="364.2" rx="3.3" ry="2.1" fill="#a2a3a3"/></g></g><path d="M105.2,371.5 L104.9,373.0 L104.0,374.4 L103.0,375.6 L102.1,376.8 L101.7,378.1 L101.7,379.6 L101.8,381.2 L101.7,382.9 L101.1,384.3 L99.9,385.3 L98.4,385.9 L96.8,386.3 L95.4,386.7 L94.3,387.5 L93.4,388.7 L92.6,390.1 L91.5,391.4 L90.2,392.2 L88.7,392.3 L87.1,391.9 L85.6,391.3 L84.2,390.8 L82.8,390.8 L81.4,391.3 L79.9,391.9 L78.3,392.3 L76.8,392.2 L75.5,391.4 L74.4,390.1 L73.6,388.7 L72.7,387.5 L71.6,386.7 L70.2,386.3 L68.6,385.9 L67.1,385.3 L65.9,384.3 L65.3,382.9 L65.2,381.2 L65.3,379.6 L65.3,378.1 L64.9,376.8 L64.0,375.6 L63.0,374.4 L62.1,373.0 L61.8,371.5 L62.1,370.0 L63.0,368.6 L64.0,367.4 L64.9,366.2 L65.3,364.9 L65.3,363.4 L65.2,361.8 L65.3,360.1 L65.9,358.7 L67.1,357.7 L68.6,357.1 L70.2,356.7 L71.6,356.3 L72.7,355.5 L73.6,354.3 L74.4,352.9 L75.5,351.6 L76.8,350.8 L78.3,350.7 L79.9,351.1 L81.4,351.7 L82.8,352.2 L84.2,352.2 L85.6,351.7 L87.1,351.1 L88.7,350.7 L90.2,350.8 L91.5,351.6 L92.6,352.9 L93.4,354.3 L94.3,355.5 L95.4,356.3 L96.8,356.7 L98.4,357.1 L99.9,357.7 L101.1,358.7 L101.7,360.1 L101.8,361.8 L101.7,363.4 L101.7,364.9 L102.1,366.2 L103.0,367.4 L104.0,368.6 L104.9,370.0Z" fill="#f06c6c" opacity="0.7"/><path d="M99.7,371.5 L99.5,372.6 L98.9,373.7 L98.0,374.6 L97.2,375.4 L96.5,376.2 L96.1,377.1 L96.0,378.1 L96.0,379.3 L95.9,380.5 L95.7,381.7 L95.1,382.7 L94.3,383.5 L93.1,383.8 L91.9,384.0 L90.7,384.0 L89.6,384.0 L88.7,384.3 L87.8,384.8 L87.0,385.6 L86.1,386.5 L85.2,387.2 L84.1,387.6 L82.9,387.6 L81.8,387.2 L80.9,386.5 L80.0,385.6 L79.2,384.8 L78.3,384.3 L77.4,384.0 L76.3,384.0 L75.1,384.0 L73.9,383.8 L72.7,383.5 L71.9,382.7 L71.3,381.7 L71.1,380.5 L71.0,379.3 L71.0,378.1 L70.9,377.1 L70.5,376.2 L69.8,375.4 L69.0,374.6 L68.1,373.7 L67.5,372.6 L67.3,371.5 L67.5,370.4 L68.1,369.3 L69.0,368.4 L69.8,367.6 L70.5,366.8 L70.9,365.9 L71.0,364.9 L71.0,363.7 L71.1,362.5 L71.3,361.3 L71.9,360.3 L72.7,359.5 L73.9,359.2 L75.1,359.0 L76.3,359.0 L77.4,359.0 L78.3,358.7 L79.2,358.2 L80.0,357.4 L80.9,356.5 L81.8,355.8 L82.9,355.4 L84.1,355.4 L85.2,355.8 L86.1,356.5 L87.0,357.4 L87.8,358.2 L88.7,358.7 L89.6,359.0 L90.7,359.0 L91.9,359.0 L93.1,359.2 L94.3,359.5 L95.1,360.3 L95.7,361.3 L95.9,362.5 L96.0,363.7 L96.0,364.9 L96.1,365.9 L96.5,366.8 L97.2,367.6 L98.0,368.4 L98.9,369.3 L99.5,370.4Z" fill="#e98a8a" opacity="0.4"/><circle cx="83.5" cy="372.5" r="8.5" fill="#a86a6a" opacity="0.45"/><path d="M200.0,399.5 L199.1,400.9 L198.2,402.2 L197.7,403.5 L197.6,404.9 L197.8,406.4 L198.0,408.1 L197.9,409.7 L197.2,411.0 L195.9,411.9 L194.4,412.6 L192.9,413.1 L191.7,413.8 L190.8,414.9 L190.1,416.3 L189.3,417.7 L188.3,418.9 L186.9,419.6 L185.3,419.6 L183.7,419.2 L182.2,418.8 L180.8,418.7 L179.5,419.0 L178.1,419.7 L176.6,420.4 L175.0,420.8 L173.6,420.5 L172.3,419.6 L171.2,418.4 L170.2,417.1 L169.2,416.2 L167.9,415.7 L166.3,415.4 L164.7,415.2 L163.2,414.5 L162.2,413.4 L161.7,411.9 L161.5,410.3 L161.5,408.7 L161.2,407.3 L160.5,406.2 L159.4,405.1 L158.2,403.9 L157.4,402.5 L157.2,401.0 L157.6,399.5 L158.5,398.1 L159.4,396.8 L159.9,395.5 L160.0,394.1 L159.8,392.6 L159.6,390.9 L159.7,389.3 L160.4,388.0 L161.7,387.1 L163.2,386.4 L164.7,385.9 L165.9,385.2 L166.8,384.1 L167.5,382.7 L168.3,381.3 L169.3,380.1 L170.7,379.4 L172.3,379.4 L173.9,379.8 L175.4,380.2 L176.8,380.3 L178.1,380.0 L179.5,379.3 L181.0,378.6 L182.6,378.2 L184.0,378.5 L185.3,379.4 L186.4,380.6 L187.4,381.9 L188.4,382.8 L189.7,383.3 L191.3,383.6 L192.9,383.8 L194.4,384.5 L195.4,385.6 L195.9,387.1 L196.1,388.7 L196.1,390.3 L196.4,391.7 L197.1,392.8 L198.2,393.9 L199.4,395.1 L200.2,396.5 L200.4,398.0Z" fill="#f06c6c" opacity="0.7"/><path d="M194.4,399.5 L193.8,400.5 L193.0,401.5 L192.4,402.4 L192.1,403.3 L192.0,404.3 L192.1,405.4 L192.3,406.7 L192.2,407.9 L191.9,409.0 L191.2,409.9 L190.2,410.5 L189.0,410.8 L187.7,410.9 L186.6,411.1 L185.7,411.5 L184.9,412.0 L184.2,412.9 L183.5,413.8 L182.6,414.7 L181.6,415.4 L180.5,415.6 L179.4,415.4 L178.3,414.8 L177.3,414.1 L176.3,413.4 L175.5,412.9 L174.5,412.7 L173.4,412.7 L172.3,412.9 L171.0,413.0 L169.8,412.8 L168.8,412.3 L168.1,411.4 L167.6,410.3 L167.4,409.0 L167.3,407.9 L167.0,406.8 L166.6,406.0 L165.9,405.3 L165.0,404.5 L164.0,403.7 L163.2,402.8 L162.8,401.8 L162.8,400.6 L163.2,399.5 L163.8,398.5 L164.6,397.5 L165.2,396.6 L165.5,395.7 L165.6,394.7 L165.5,393.6 L165.3,392.3 L165.4,391.1 L165.7,390.0 L166.4,389.1 L167.4,388.5 L168.6,388.2 L169.9,388.1 L171.0,387.9 L171.9,387.5 L172.7,387.0 L173.4,386.1 L174.1,385.2 L175.0,384.3 L176.0,383.6 L177.1,383.4 L178.2,383.6 L179.3,384.2 L180.3,384.9 L181.3,385.6 L182.1,386.1 L183.1,386.3 L184.2,386.3 L185.3,386.1 L186.6,386.0 L187.8,386.2 L188.8,386.7 L189.5,387.6 L190.0,388.7 L190.2,390.0 L190.3,391.1 L190.6,392.2 L191.0,393.0 L191.7,393.7 L192.6,394.5 L193.6,395.3 L194.4,396.2 L194.8,397.2 L194.8,398.4Z" fill="#e98a8a" opacity="0.4"/><circle cx="178.8" cy="400.5" r="8.5" fill="#a86a6a" opacity="0.45"/><path d="M84.3,427.5 L83.6,428.9 L83.4,430.2 L83.7,431.6 L84.1,433.2 L84.4,434.8 L84.1,436.3 L83.3,437.6 L82.0,438.5 L80.5,439.2 L79.2,440.0 L78.2,440.9 L77.5,442.2 L77.0,443.7 L76.2,445.2 L75.2,446.3 L73.7,446.8 L72.1,446.8 L70.5,446.5 L69.0,446.3 L67.7,446.5 L66.4,447.2 L65.0,448.1 L63.6,448.9 L62.0,449.1 L60.6,448.7 L59.3,447.7 L58.1,446.5 L57.0,445.5 L55.8,444.9 L54.4,444.6 L52.8,444.6 L51.1,444.3 L49.8,443.6 L48.8,442.4 L48.3,440.9 L48.1,439.2 L47.9,437.8 L47.3,436.6 L46.2,435.5 L44.9,434.5 L43.8,433.4 L43.1,432.0 L43.0,430.5 L43.5,429.0 L44.3,427.5 L45.0,426.1 L45.2,424.8 L44.9,423.4 L44.5,421.8 L44.2,420.2 L44.5,418.7 L45.3,417.4 L46.6,416.5 L48.1,415.8 L49.4,415.0 L50.4,414.1 L51.1,412.8 L51.6,411.3 L52.4,409.8 L53.4,408.7 L54.9,408.2 L56.5,408.2 L58.1,408.5 L59.6,408.7 L60.9,408.5 L62.2,407.8 L63.6,406.9 L65.0,406.1 L66.6,405.9 L68.0,406.3 L69.3,407.3 L70.5,408.5 L71.6,409.5 L72.8,410.1 L74.2,410.4 L75.8,410.4 L77.5,410.7 L78.8,411.4 L79.8,412.6 L80.3,414.1 L80.5,415.8 L80.7,417.2 L81.3,418.4 L82.4,419.5 L83.7,420.5 L84.8,421.6 L85.5,423.0 L85.6,424.5 L85.1,426.0Z" fill="#f06c6c" opacity="0.7"/><path d="M78.8,427.5 L78.3,428.5 L78.0,429.4 L78.0,430.4 L78.2,431.5 L78.5,432.7 L78.7,433.9 L78.5,435.1 L78.0,436.1 L77.1,436.8 L76.0,437.3 L74.8,437.7 L73.7,438.0 L72.8,438.4 L72.1,439.0 L71.5,439.9 L70.8,440.9 L70.1,441.9 L69.3,442.8 L68.2,443.2 L67.1,443.2 L65.9,442.9 L64.8,442.3 L63.8,441.7 L62.9,441.3 L61.9,441.1 L60.9,441.3 L59.7,441.5 L58.5,441.8 L57.3,441.8 L56.2,441.5 L55.3,440.8 L54.7,439.8 L54.3,438.6 L54.0,437.5 L53.6,436.4 L53.1,435.6 L52.4,435.0 L51.4,434.4 L50.4,433.7 L49.4,432.9 L48.8,432.0 L48.5,430.9 L48.7,429.7 L49.2,428.6 L49.8,427.5 L50.3,426.5 L50.6,425.6 L50.6,424.6 L50.4,423.5 L50.1,422.3 L49.9,421.1 L50.1,419.9 L50.6,418.9 L51.5,418.2 L52.6,417.7 L53.8,417.3 L54.9,417.0 L55.8,416.6 L56.5,416.0 L57.1,415.1 L57.8,414.1 L58.5,413.1 L59.3,412.2 L60.4,411.8 L61.5,411.8 L62.7,412.1 L63.8,412.7 L64.8,413.3 L65.7,413.7 L66.7,413.9 L67.7,413.7 L68.9,413.5 L70.1,413.2 L71.3,413.2 L72.4,413.5 L73.3,414.2 L73.9,415.2 L74.3,416.4 L74.6,417.5 L75.0,418.6 L75.5,419.4 L76.2,420.0 L77.2,420.6 L78.2,421.3 L79.2,422.1 L79.8,423.0 L80.1,424.1 L79.9,425.3 L79.4,426.4Z" fill="#e98a8a" opacity="0.4"/><circle cx="64.3" cy="428.5" r="8.5" fill="#a86a6a" opacity="0.45"/><path d="M186.4,443.0 L185.7,444.4 L184.7,445.8 L183.9,447.0 L183.6,448.3 L183.7,449.8 L183.9,451.4 L183.9,453.1 L183.4,454.5 L182.3,455.6 L180.9,456.3 L179.3,456.8 L177.9,457.4 L176.9,458.2 L176.1,459.5 L175.4,460.9 L174.4,462.3 L173.1,463.1 L171.6,463.4 L170.0,463.1 L168.5,462.6 L167.0,462.2 L165.7,462.3 L164.3,462.9 L162.8,463.6 L161.3,464.1 L159.7,464.1 L158.4,463.4 L157.2,462.2 L156.3,460.9 L155.3,459.8 L154.2,459.0 L152.8,458.7 L151.1,458.4 L149.6,457.9 L148.4,457.0 L147.7,455.6 L147.4,454.0 L147.4,452.3 L147.3,450.9 L146.8,449.6 L145.9,448.5 L144.7,447.3 L143.8,446.0 L143.3,444.5 L143.6,443.0 L144.3,441.6 L145.3,440.2 L146.1,439.0 L146.4,437.7 L146.3,436.2 L146.1,434.6 L146.1,432.9 L146.6,431.5 L147.7,430.4 L149.1,429.7 L150.7,429.2 L152.1,428.6 L153.1,427.8 L153.9,426.5 L154.6,425.1 L155.6,423.7 L156.9,422.9 L158.4,422.6 L160.0,422.9 L161.5,423.4 L163.0,423.8 L164.3,423.7 L165.7,423.1 L167.2,422.4 L168.7,421.9 L170.3,421.9 L171.6,422.6 L172.8,423.8 L173.7,425.1 L174.7,426.2 L175.8,427.0 L177.2,427.3 L178.9,427.6 L180.4,428.1 L181.6,429.0 L182.3,430.4 L182.6,432.0 L182.6,433.7 L182.7,435.1 L183.2,436.4 L184.1,437.5 L185.3,438.7 L186.2,440.0 L186.7,441.5Z" fill="#f06c6c" opacity="0.7"/><path d="M180.9,443.0 L180.3,444.1 L179.6,445.0 L178.8,445.9 L178.3,446.8 L178.0,447.7 L178.0,448.8 L178.1,450.0 L178.2,451.2 L178.0,452.4 L177.4,453.4 L176.5,454.1 L175.4,454.5 L174.2,454.7 L173.0,454.8 L171.9,455.0 L171.1,455.4 L170.3,456.1 L169.5,457.0 L168.7,457.9 L167.8,458.7 L166.7,459.1 L165.6,459.1 L164.5,458.7 L163.4,458.0 L162.5,457.2 L161.6,456.5 L160.7,456.1 L159.7,456.0 L158.6,456.1 L157.4,456.2 L156.2,456.1 L155.1,455.7 L154.2,455.0 L153.6,454.0 L153.4,452.8 L153.2,451.6 L153.1,450.4 L152.8,449.5 L152.3,448.7 L151.5,447.9 L150.5,447.1 L149.7,446.3 L149.1,445.2 L148.9,444.1 L149.1,443.0 L149.7,441.9 L150.4,441.0 L151.2,440.1 L151.7,439.2 L152.0,438.3 L152.0,437.2 L151.9,436.0 L151.8,434.8 L152.0,433.6 L152.6,432.6 L153.5,431.9 L154.6,431.5 L155.8,431.3 L157.0,431.2 L158.1,431.0 L158.9,430.6 L159.7,429.9 L160.5,429.0 L161.3,428.1 L162.2,427.3 L163.3,426.9 L164.4,426.9 L165.5,427.3 L166.6,428.0 L167.5,428.8 L168.4,429.5 L169.3,429.9 L170.3,430.0 L171.4,429.9 L172.6,429.8 L173.8,429.9 L174.9,430.3 L175.8,431.0 L176.4,432.0 L176.6,433.2 L176.8,434.4 L176.9,435.6 L177.2,436.5 L177.7,437.3 L178.5,438.1 L179.5,438.9 L180.3,439.7 L180.9,440.8 L181.1,441.9Z" fill="#e98a8a" opacity="0.4"/><circle cx="165" cy="444" r="8.5" fill="#a86a6a" opacity="0.45"/><path d="M159.9,352.0 L159.6,353.5 L158.7,354.9 L157.6,356.2 L156.6,357.3 L155.9,358.5 L155.7,359.9 L155.7,361.4 L155.8,363.1 L155.5,364.7 L154.8,366.1 L153.6,367.0 L152.0,367.6 L150.3,367.8 L148.8,368.0 L147.5,368.5 L146.5,369.4 L145.5,370.6 L144.5,371.9 L143.2,373.0 L141.8,373.6 L140.3,373.5 L138.7,372.9 L137.3,372.0 L136.0,371.2 L134.7,370.8 L133.3,370.8 L131.8,371.1 L130.2,371.4 L128.5,371.5 L127.0,371.0 L125.9,370.0 L125.1,368.5 L124.6,366.9 L124.1,365.4 L123.4,364.3 L122.4,363.4 L121.0,362.6 L119.5,361.8 L118.2,360.8 L117.4,359.5 L117.2,358.0 L117.5,356.4 L118.1,354.8 L118.7,353.3 L118.9,352.0 L118.7,350.7 L118.1,349.2 L117.5,347.6 L117.2,346.0 L117.4,344.5 L118.2,343.2 L119.5,342.2 L121.0,341.4 L122.4,340.6 L123.4,339.7 L124.1,338.6 L124.6,337.1 L125.1,335.5 L125.9,334.0 L127.0,333.0 L128.5,332.5 L130.2,332.6 L131.8,332.9 L133.3,333.2 L134.7,333.2 L136.0,332.8 L137.3,332.0 L138.7,331.1 L140.3,330.5 L141.8,330.4 L143.2,331.0 L144.5,332.1 L145.5,333.4 L146.5,334.6 L147.5,335.5 L148.8,336.0 L150.3,336.2 L152.0,336.4 L153.6,337.0 L154.8,337.9 L155.5,339.3 L155.8,340.9 L155.7,342.6 L155.7,344.1 L155.9,345.5 L156.6,346.7 L157.6,347.8 L158.7,349.1 L159.6,350.5Z" fill="#e84747"/><path d="M154.9,352.0 L154.5,353.2 L153.8,354.2 L153.0,355.2 L152.5,356.2 L152.2,357.2 L152.2,358.3 L152.2,359.6 L152.1,360.8 L151.7,362.0 L150.9,362.9 L149.9,363.5 L148.7,363.8 L147.5,364.1 L146.4,364.5 L145.6,365.1 L144.8,365.9 L144.0,366.9 L143.1,367.8 L142.1,368.4 L140.9,368.6 L139.7,368.4 L138.6,367.9 L137.5,367.4 L136.4,367.0 L135.4,366.9 L134.2,367.0 L133.0,367.3 L131.8,367.4 L130.6,367.2 L129.6,366.6 L128.8,365.7 L128.2,364.5 L127.7,363.4 L127.2,362.5 L126.4,361.7 L125.5,361.1 L124.4,360.5 L123.3,359.8 L122.5,358.9 L122.1,357.8 L122.1,356.5 L122.4,355.3 L122.8,354.1 L123.0,353.1 L122.9,352.0 L122.5,350.9 L122.1,349.8 L121.7,348.5 L121.7,347.3 L122.1,346.2 L122.9,345.3 L123.9,344.5 L125.0,343.9 L125.8,343.1 L126.4,342.3 L126.8,341.2 L127.2,340.0 L127.8,338.9 L128.5,338.0 L129.6,337.4 L130.8,337.2 L132.0,337.2 L133.3,337.4 L134.4,337.4 L135.4,337.1 L136.4,336.6 L137.4,335.9 L138.6,335.4 L139.8,335.2 L140.9,335.4 L142.0,336.0 L142.9,336.9 L143.8,337.7 L144.6,338.5 L145.6,338.9 L146.7,339.1 L147.9,339.3 L149.1,339.6 L150.2,340.2 L150.9,341.1 L151.3,342.3 L151.5,343.6 L151.6,344.8 L151.8,345.9 L152.2,346.8 L152.9,347.7 L153.7,348.7 L154.5,349.7 L154.9,350.8Z" fill="#ec5050" opacity="0.6"/><circle cx="137.5" cy="353" r="8.2" fill="#a52d2d"/></g>
<defs><linearGradient id="ff" x1="0" y1="0" x2="0" y2="1"><stop offset="0" stop-color="#d9d9db"/><stop offset="1" stop-color="#c5c5c7"/></linearGradient><linearGradient id="rf" x1="0" y1="0" x2="0" y2="1"><stop offset="0" stop-color="#dcdcde"/><stop offset="1" stop-color="#c9c9cb"/></linearGradient></defs><path d="M441.4,318.8 L567.6,361.2 L526,393.2 L403,345.8Z" fill="#e7e7e9"/><path d="M403,345.8 L526,393.2 L513,442 L390.1,391.9Z" fill="url(#ff)"/><path d="M526,393.2 L567.6,361.2 L567.6,397 L513,442Z" fill="url(#rf)"/><path d="M403.5,347.5 L526,394.5" stroke="#f6f6f7" stroke-width="1.6"/><path d="M526.5,394 L567,362.5" stroke="#f3f3f4" stroke-width="1.2"/><path d="M441.4,318.8 L567.6,361.2 L567.6,397 L513,442 L390.1,391.9 L403,345.8Z" fill="none" stroke="#8c8c8e" stroke-width="1.1" stroke-linejoin="round"/><path d="M396.3,392 L408.5,396.8 L395.5,432.3 L456,420.3 L467.3,418.1 L492.6,428.5 L490.5,431.2 L376,457 L371,452.5Z" fill="#ebebed" stroke="#979799" stroke-width="1.1" stroke-linejoin="round"/><path d="M371.5,453.5 L376,456.3 L490,430.5" fill="none" stroke="#acacae" stroke-width="1.8"/><path d="M376.5,458.5 L383.5,459.5 L380.4,479.5Z" fill="#b5b5b9" stroke="#9b9b9f" stroke-width="0.6"/><path d="M358.5,490 C359,484.5 370,484 385,481 C398,478 404,469 414,464 C423,459.5 433,460 442,465 C452,471 462,478 478,482 C489,484.5 495,486 494.5,490 C494,494 485,493 470,494.5 C440,496.5 400,497 370,495.5 C362,495 358,494 358.5,490Z" fill="#ef8ba4" stroke="#d6577b" stroke-width="1.6"/><ellipse cx="426.3" cy="482.4" rx="4.3" ry="5.8" fill="#d34f6f"/>
<rect x="648.5" y="318" width="161.5" height="179.5" rx="16" fill="#fff" stroke="#4a3840" stroke-width="1.8"/><defs><clipPath id="mc"><rect x="649.5" y="396" width="159.5" height="62"/></clipPath></defs><defs><filter id="mb" x="-5%" y="-10%" width="110%" height="120%"><feGaussianBlur stdDeviation="0.7"/></filter></defs><g clip-path="url(#mc)"><g filter="url(#mb)"><rect x="649.5" y="401" width="159.5" height="17" fill="#47a2f4"/><rect x="649.5" y="418" width="159.5" height="17" fill="#e3f1fd"/><rect x="649.5" y="435" width="159.5" height="17" fill="#47a2f4"/><circle cx="653.3" cy="401.3" r="3.6" fill="#47a2f4"/><circle cx="653.3" cy="451.7" r="3.6" fill="#47a2f4"/><path d="M650.3,405 L653.3,408 L656.3,405" stroke="#8fcaf8" stroke-width="1.2" fill="none"/><path d="M650.3,411 L653.3,414 L656.3,411" stroke="#8fcaf8" stroke-width="1.2" fill="none"/><path d="M650.3,440 L653.3,443 L656.3,440" stroke="#8fcaf8" stroke-width="1.2" fill="none"/><path d="M650.3,446 L653.3,449 L656.3,446" stroke="#8fcaf8" stroke-width="1.2" fill="none"/><path d="M651.7,418 l1.5,3 l-1.5,3 l1.5,3 M654.9,435 l-1.5,-3 l1.5,-3 l-1.5,-3" stroke="#7fbff6" stroke-width="1.1" fill="none"/><circle cx="660.9" cy="401.3" r="3.6" fill="#47a2f4"/><circle cx="660.9" cy="451.7" r="3.6" fill="#47a2f4"/><path d="M657.9,405 L660.9,408 L663.9,405" stroke="#8fcaf8" stroke-width="1.2" fill="none"/><path d="M657.9,411 L660.9,414 L663.9,411" stroke="#8fcaf8" stroke-width="1.2" fill="none"/><path d="M657.9,440 L660.9,443 L663.9,440" stroke="#8fcaf8" stroke-width="1.2" fill="none"/><path d="M657.9,446 L660.9,449 L663.9,446" stroke="#8fcaf8" stroke-width="1.2" fill="none"/><path d="M659.3,418 l1.5,3 l-1.5,3 l1.5,3 M662.5,435 l-1.5,-3 l1.5,-3 l-1.5,-3" stroke="#7fbff6" stroke-width="1.1" fill="none"/><circle cx="668.5" cy="401.3" r="3.6" fill="#47a2f4"/><circle cx="668.5" cy="451.7" r="3.6" fill="#47a2f4"/><path d="M665.5,405 L668.5,408 L671.5,405" stroke="#8fcaf8" stroke-width="1.2" fill="none"/><path d="M665.5,411 L668.5,414 L671.5,411" stroke="#8fcaf8" stroke-width="1.2" fill="none"/><path d="M665.5,440 L668.5,443 L671.5,440" stroke="#8fcaf8" stroke-width="1.2" fill="none"/><path d="M665.5,446 L668.5,449 L671.5,446" stroke="#8fcaf8" stroke-width="1.2" fill="none"/><path d="M666.9,418 l1.5,3 l-1.5,3 l1.5,3 M670.1,435 l-1.5,-3 l1.5,-3 l-1.5,-3" stroke="#7fbff6" stroke-width="1.1" fill="none"/><circle cx="676.1" cy="401.3" r="3.6" fill="#47a2f4"/><circle cx="676.1" cy="451.7" r="3.6" fill="#47a2f4"/><path d="M673.1,405 L676.1,408 L679.1,405" stroke="#8fcaf8" stroke-width="1.2" fill="none"/><path d="M673.1,411 L676.1,414 L679.1,411" stroke="#8fcaf8" stroke-width="1.2" fill="none"/><path d="M673.1,440 L676.1,443 L679.1,440" stroke="#8fcaf8" stroke-width="1.2" fill="none"/><path d="M673.1,446 L676.1,449 L679.1,446" stroke="#8fcaf8" stroke-width="1.2" fill="none"/><path d="M674.5,418 l1.5,3 l-1.5,3 l1.5,3 M677.7,435 l-1.5,-3 l1.5,-3 l-1.5,-3" stroke="#7fbff6" stroke-width="1.1" fill="none"/><circle cx="683.7" cy="401.3" r="3.6" fill="#47a2f4"/><circle cx="683.7" cy="451.7" r="3.6" fill="#47a2f4"/><path d="M680.7,405 L683.7,408 L686.7,405" stroke="#8fcaf8" stroke-width="1.2" fill="none"/><path d="M680.7,411 L683.7,414 L686.7,411" stroke="#8fcaf8" stroke-width="1.2" fill="none"/><path d="M680.7,440 L683.7,443 L686.7,440" stroke="#8fcaf8" stroke-width="1.2" fill="none"/><path d="M680.7,446 L683.7,449 L686.7,446" stroke="#8fcaf8" stroke-width="1.2" fill="none"/><path d="M682.1,418 l1.5,3 l-1.5,3 l1.5,3 M685.3,435 l-1.5,-3 l1.5,-3 l-1.5,-3" stroke="#7fbff6" stroke-width="1.1" fill="none"/><circle cx="691.3" cy="401.3" r="3.6" fill="#47a2f4"/><circle cx="691.3" cy="451.7" r="3.6" fill="#47a2f4"/><path d="M688.3,405 L691.3,408 L694.3,405" stroke="#8fcaf8" stroke-width="1.2" fill="none"/><path d="M688.3,411 L691.3,414 L694.3,411" stroke="#8fcaf8" stroke-width="1.2" fill="none"/><path d="M688.3,440 L691.3,443 L694.3,440" stroke="#8fcaf8" stroke-width="1.2" fill="none"/><path d="M688.3,446 L691.3,449 L694.3,446" stroke="#8fcaf8" stroke-width="1.2" fill="none"/><path d="M689.7,418 l1.5,3 l-1.5,3 l1.5,3 M692.9,435 l-1.5,-3 l1.5,-3 l-1.5,-3" stroke="#7fbff6" stroke-width="1.1" fill="none"/><circle cx="698.9" cy="401.3" r="3.6" fill="#47a2f4"/><circle cx="698.9" cy="451.7" r="3.6" fill="#47a2f4"/><path d="M695.9,405 L698.9,408 L701.9,405" stroke="#8fcaf8" stroke-width="1.2" fill="none"/><path d="M695.9,411 L698.9,414 L701.9,411" stroke="#8fcaf8" stroke-width="1.2" fill="none"/><path d="M695.9,440 L698.9,443 L701.9,440" stroke="#8fcaf8" stroke-width="1.2" fill="none"/><path d="M695.9,446 L698.9,449 L701.9,446" stroke="#8fcaf8" stroke-width="1.2" fill="none"/><path d="M697.3,418 l1.5,3 l-1.5,3 l1.5,3 M700.5,435 l-1.5,-3 l1.5,-3 l-1.5,-3" stroke="#7fbff6" stroke-width="1.1" fill="none"/><circle cx="706.5" cy="401.3" r="3.6" fill="#47a2f4"/><circle cx="706.5" cy="451.7" r="3.6" fill="#47a2f4"/><path d="M703.5,405 L706.5,408 L709.5,405" stroke="#8fcaf8" stroke-width="1.2" fill="none"/><path d="M703.5,411 L706.5,414 L709.5,411" stroke="#8fcaf8" stroke-width="1.2" fill="none"/><path d="M703.5,440 L706.5,443 L709.5,440" stroke="#8fcaf8" stroke-width="1.2" fill="none"/><path d="M703.5,446 L706.5,449 L709.5,446" stroke="#8fcaf8" stroke-width="1.2" fill="none"/><path d="M704.9,418 l1.5,3 l-1.5,3 l1.5,3 M708.1,435 l-1.5,-3 l1.5,-3 l-1.5,-3" stroke="#7fbff6" stroke-width="1.1" fill="none"/><circle cx="714.1" cy="401.3" r="3.6" fill="#47a2f4"/><circle cx="714.1" cy="451.7" r="3.6" fill="#47a2f4"/><path d="M711.1,405 L714.1,408 L717.1,405" stroke="#8fcaf8" stroke-width="1.2" fill="none"/><path d="M711.1,411 L714.1,414 L717.1,411" stroke="#8fcaf8" stroke-width="1.2" fill="none"/><path d="M711.1,440 L714.1,443 L717.1,440" stroke="#8fcaf8" stroke-width="1.2" fill="none"/><path d="M711.1,446 L714.1,449 L717.1,446" stroke="#8fcaf8" stroke-width="1.2" fill="none"/><path d="M712.5,418 l1.5,3 l-1.5,3 l1.5,3 M715.7,435 l-1.5,-3 l1.5,-3 l-1.5,-3" stroke="#7fbff6" stroke-width="1.1" fill="none"/><circle cx="721.7" cy="401.3" r="3.6" fill="#47a2f4"/><circle cx="721.7" cy="451.7" r="3.6" fill="#47a2f4"/><path d="M718.7,405 L721.7,408 L724.7,405" stroke="#8fcaf8" stroke-width="1.2" fill="none"/><path d="M718.7,411 L721.7,414 L724.7,411" stroke="#8fcaf8" stroke-width="1.2" fill="none"/><path d="M718.7,440 L721.7,443 L724.7,440" stroke="#8fcaf8" stroke-width="1.2" fill="none"/><path d="M718.7,446 L721.7,449 L724.7,446" stroke="#8fcaf8" stroke-width="1.2" fill="none"/><path d="M720.1,418 l1.5,3 l-1.5,3 l1.5,3 M723.3,435 l-1.5,-3 l1.5,-3 l-1.5,-3" stroke="#7fbff6" stroke-width="1.1" fill="none"/><circle cx="729.3" cy="401.3" r="3.6" fill="#47a2f4"/><circle cx="729.3" cy="451.7" r="3.6" fill="#47a2f4"/><path d="M726.3,405 L729.3,408 L732.3,405" stroke="#8fcaf8" stroke-width="1.2" fill="none"/><path d="M726.3,411 L729.3,414 L732.3,411" stroke="#8fcaf8" stroke-width="1.2" fill="none"/><path d="M726.3,440 L729.3,443 L732.3,440" stroke="#8fcaf8" stroke-width="1.2" fill="none"/><path d="M726.3,446 L729.3,449 L732.3,446" stroke="#8fcaf8" stroke-width="1.2" fill="none"/><path d="M727.7,418 l1.5,3 l-1.5,3 l1.5,3 M730.9,435 l-1.5,-3 l1.5,-3 l-1.5,-3" stroke="#7fbff6" stroke-width="1.1" fill="none"/><circle cx="736.9" cy="401.3" r="3.6" fill="#47a2f4"/><circle cx="736.9" cy="451.7" r="3.6" fill="#47a2f4"/><path d="M733.9,405 L736.9,408 L739.9,405" stroke="#8fcaf8" stroke-width="1.2" fill="none"/><path d="M733.9,411 L736.9,414 L739.9,411" stroke="#8fcaf8" stroke-width="1.2" fill="none"/><path d="M733.9,440 L736.9,443 L739.9,440" stroke="#8fcaf8" stroke-width="1.2" fill="none"/><path d="M733.9,446 L736.9,449 L739.9,446" stroke="#8fcaf8" stroke-width="1.2" fill="none"/><path d="M735.3,418 l1.5,3 l-1.5,3 l1.5,3 M738.5,435 l-1.5,-3 l1.5,-3 l-1.5,-3" stroke="#7fbff6" stroke-width="1.1" fill="none"/><circle cx="744.5" cy="401.3" r="3.6" fill="#47a2f4"/><circle cx="744.5" cy="451.7" r="3.6" fill="#47a2f4"/><path d="M741.5,405 L744.5,408 L747.5,405" stroke="#8fcaf8" stroke-width="1.2" fill="none"/><path d="M741.5,411 L744.5,414 L747.5,411" stroke="#8fcaf8" stroke-width="1.2" fill="none"/><path d="M741.5,440 L744.5,443 L747.5,440" stroke="#8fcaf8" stroke-width="1.2" fill="none"/><path d="M741.5,446 L744.5,449 L747.5,446" stroke="#8fcaf8" stroke-width="1.2" fill="none"/><path d="M742.9,418 l1.5,3 l-1.5,3 l1.5,3 M746.1,435 l-1.5,-3 l1.5,-3 l-1.5,-3" stroke="#7fbff6" stroke-width="1.1" fill="none"/><circle cx="752.1" cy="401.3" r="3.6" fill="#47a2f4"/><circle cx="752.1" cy="451.7" r="3.6" fill="#47a2f4"/><path d="M749.1,405 L752.1,408 L755.1,405" stroke="#8fcaf8" stroke-width="1.2" fill="none"/><path d="M749.1,411 L752.1,414 L755.1,411" stroke="#8fcaf8" stroke-width="1.2" fill="none"/><path d="M749.1,440 L752.1,443 L755.1,440" stroke="#8fcaf8" stroke-width="1.2" fill="none"/><path d="M749.1,446 L752.1,449 L755.1,446" stroke="#8fcaf8" stroke-width="1.2" fill="none"/><path d="M750.5,418 l1.5,3 l-1.5,3 l1.5,3 M753.7,435 l-1.5,-3 l1.5,-3 l-1.5,-3" stroke="#7fbff6" stroke-width="1.1" fill="none"/><circle cx="759.7" cy="401.3" r="3.6" fill="#47a2f4"/><circle cx="759.7" cy="451.7" r="3.6" fill="#47a2f4"/><path d="M756.7,405 L759.7,408 L762.7,405" stroke="#8fcaf8" stroke-width="1.2" fill="none"/><path d="M756.7,411 L759.7,414 L762.7,411" stroke="#8fcaf8" stroke-width="1.2" fill="none"/><path d="M756.7,440 L759.7,443 L762.7,440" stroke="#8fcaf8" stroke-width="1.2" fill="none"/><path d="M756.7,446 L759.7,449 L762.7,446" stroke="#8fcaf8" stroke-width="1.2" fill="none"/><path d="M758.1,418 l1.5,3 l-1.5,3 l1.5,3 M761.3,435 l-1.5,-3 l1.5,-3 l-1.5,-3" stroke="#7fbff6" stroke-width="1.1" fill="none"/><circle cx="767.3" cy="401.3" r="3.6" fill="#47a2f4"/><circle cx="767.3" cy="451.7" r="3.6" fill="#47a2f4"/><path d="M764.3,405 L767.3,408 L770.3,405" stroke="#8fcaf8" stroke-width="1.2" fill="none"/><path d="M764.3,411 L767.3,414 L770.3,411" stroke="#8fcaf8" stroke-width="1.2" fill="none"/><path d="M764.3,440 L767.3,443 L770.3,440" stroke="#8fcaf8" stroke-width="1.2" fill="none"/><path d="M764.3,446 L767.3,449 L770.3,446" stroke="#8fcaf8" stroke-width="1.2" fill="none"/><path d="M765.7,418 l1.5,3 l-1.5,3 l1.5,3 M768.9,435 l-1.5,-3 l1.5,-3 l-1.5,-3" stroke="#7fbff6" stroke-width="1.1" fill="none"/><circle cx="774.9" cy="401.3" r="3.6" fill="#47a2f4"/><circle cx="774.9" cy="451.7" r="3.6" fill="#47a2f4"/><path d="M771.9,405 L774.9,408 L777.9,405" stroke="#8fcaf8" stroke-width="1.2" fill="none"/><path d="M771.9,411 L774.9,414 L777.9,411" stroke="#8fcaf8" stroke-width="1.2" fill="none"/><path d="M771.9,440 L774.9,443 L777.9,440" stroke="#8fcaf8" stroke-width="1.2" fill="none"/><path d="M771.9,446 L774.9,449 L777.9,446" stroke="#8fcaf8" stroke-width="1.2" fill="none"/><path d="M773.3,418 l1.5,3 l-1.5,3 l1.5,3 M776.5,435 l-1.5,-3 l1.5,-3 l-1.5,-3" stroke="#7fbff6" stroke-width="1.1" fill="none"/><circle cx="782.5" cy="401.3" r="3.6" fill="#47a2f4"/><circle cx="782.5" cy="451.7" r="3.6" fill="#47a2f4"/><path d="M779.5,405 L782.5,408 L785.5,405" stroke="#8fcaf8" stroke-width="1.2" fill="none"/><path d="M779.5,411 L782.5,414 L785.5,411" stroke="#8fcaf8" stroke-width="1.2" fill="none"/><path d="M779.5,440 L782.5,443 L785.5,440" stroke="#8fcaf8" stroke-width="1.2" fill="none"/><path d="M779.5,446 L782.5,449 L785.5,446" stroke="#8fcaf8" stroke-width="1.2" fill="none"/><path d="M780.9,418 l1.5,3 l-1.5,3 l1.5,3 M784.1,435 l-1.5,-3 l1.5,-3 l-1.5,-3" stroke="#7fbff6" stroke-width="1.1" fill="none"/><circle cx="790.1" cy="401.3" r="3.6" fill="#47a2f4"/><circle cx="790.1" cy="451.7" r="3.6" fill="#47a2f4"/><path d="M787.1,405 L790.1,408 L793.1,405" stroke="#8fcaf8" stroke-width="1.2" fill="none"/><path d="M787.1,411 L790.1,414 L793.1,411" stroke="#8fcaf8" stroke-width="1.2" fill="none"/><path d="M787.1,440 L790.1,443 L793.1,440" stroke="#8fcaf8" stroke-width="1.2" fill="none"/><path d="M787.1,446 L790.1,449 L793.1,446" stroke="#8fcaf8" stroke-width="1.2" fill="none"/><path d="M788.5,418 l1.5,3 l-1.5,3 l1.5,3 M791.7,435 l-1.5,-3 l1.5,-3 l-1.5,-3" stroke="#7fbff6" stroke-width="1.1" fill="none"/><circle cx="797.7" cy="401.3" r="3.6" fill="#47a2f4"/><circle cx="797.7" cy="451.7" r="3.6" fill="#47a2f4"/><path d="M794.7,405 L797.7,408 L800.7,405" stroke="#8fcaf8" stroke-width="1.2" fill="none"/><path d="M794.7,411 L797.7,414 L800.7,411" stroke="#8fcaf8" stroke-width="1.2" fill="none"/><path d="M794.7,440 L797.7,443 L800.7,440" stroke="#8fcaf8" stroke-width="1.2" fill="none"/><path d="M794.7,446 L797.7,449 L800.7,446" stroke="#8fcaf8" stroke-width="1.2" fill="none"/><path d="M796.1,418 l1.5,3 l-1.5,3 l1.5,3 M799.3,435 l-1.5,-3 l1.5,-3 l-1.5,-3" stroke="#7fbff6" stroke-width="1.1" fill="none"/><circle cx="805.3" cy="401.3" r="3.6" fill="#47a2f4"/><circle cx="805.3" cy="451.7" r="3.6" fill="#47a2f4"/><path d="M802.3,405 L805.3,408 L808.3,405" stroke="#8fcaf8" stroke-width="1.2" fill="none"/><path d="M802.3,411 L805.3,414 L808.3,411" stroke="#8fcaf8" stroke-width="1.2" fill="none"/><path d="M802.3,440 L805.3,443 L808.3,440" stroke="#8fcaf8" stroke-width="1.2" fill="none"/><path d="M802.3,446 L805.3,449 L808.3,446" stroke="#8fcaf8" stroke-width="1.2" fill="none"/><path d="M803.7,418 l1.5,3 l-1.5,3 l1.5,3 M806.9,435 l-1.5,-3 l1.5,-3 l-1.5,-3" stroke="#7fbff6" stroke-width="1.1" fill="none"/><circle cx="812.9" cy="401.3" r="3.6" fill="#47a2f4"/><circle cx="812.9" cy="451.7" r="3.6" fill="#47a2f4"/><path d="M809.9,405 L812.9,408 L815.9,405" stroke="#8fcaf8" stroke-width="1.2" fill="none"/><path d="M809.9,411 L812.9,414 L815.9,411" stroke="#8fcaf8" stroke-width="1.2" fill="none"/><path d="M809.9,440 L812.9,443 L815.9,440" stroke="#8fcaf8" stroke-width="1.2" fill="none"/><path d="M809.9,446 L812.9,449 L815.9,446" stroke="#8fcaf8" stroke-width="1.2" fill="none"/><path d="M811.3,418 l1.5,3 l-1.5,3 l1.5,3 M814.5,435 l-1.5,-3 l1.5,-3 l-1.5,-3" stroke="#7fbff6" stroke-width="1.1" fill="none"/></g></g><path d="M689.5,370 Q689,352.5 705.5,352.3 L741.5,352.3 Q758,352.5 757.5,370 L757.8,415 Q757.5,422.5 751,422.5 Q745,422.5 743.5,416 Q741.5,407 737.5,407 L733,409 L715,409 L710.5,407 Q706.5,407 705,416 Q703.5,422.5 698,422.5 Q689.5,422.5 689.5,415Z" fill="#f59bb9" stroke="#d4557e" stroke-width="1.1"/><path d="M705.5,352.3 L741.5,352.3 Q752,352.5 755.8,359 Q745,362.5 724,362.5 Q703,362.5 691.2,359 Q695,352.5 705.5,352.3Z" fill="#ea6b93"/><path d="M716,362 L731.5,362 Q731,372 735,378 Q739,385 735,392 Q731.5,396 732,402 L732.5,452 Q724,449 715,452 L716,402 Q716.5,396 713,392 Q709,385 713,378 Q716.5,372 716,362Z" fill="#c83b63"/><g fill="none" stroke="#3b63b3" stroke-width="2.1" stroke-linecap="round" stroke-linejoin="round"><path d="M674.7,378.2 C675.3,377.7 677.1,375.0 678.3,375.3 C679.5,375.6 680.6,378.7 681.8,380.0 C683.0,381.3 684.4,383.0 685.4,383.0 C686.4,383.0 687.1,382.1 687.8,380.0 C688.5,377.9 688.5,373.1 689.5,370.5 C690.5,367.9 692.2,366.3 693.7,364.6 C695.2,362.9 696.8,361.1 698.4,360.5 C700.0,359.9 702.0,360.1 703.2,361.0 C704.4,361.9 705.1,365.0 705.5,365.8"/><path d="M692.5,375.3 C693.5,375.9 696.9,377.2 698.4,378.8 C699.9,380.4 701.4,383.7 701.4,384.8 C701.4,385.9 699.5,386.0 698.4,385.4 C697.3,384.8 696.1,383.1 694.9,381.2 C693.7,379.3 691.9,375.2 691.3,374.0"/><path d="M724.5,339.7 C723.3,340.4 718.4,342.5 717.4,343.9 C716.4,345.3 717.2,346.3 718.6,348.0 C720.0,349.7 723.7,352.4 725.7,354.0 C727.7,355.6 728.8,357.1 730.4,357.5 C732.0,357.9 734.2,357.5 735.2,356.3 C736.2,355.1 735.3,352.4 736.3,350.4 C737.3,348.4 739.3,345.5 741.1,344.5 C742.9,343.5 745.9,343.7 747.0,344.5 C748.1,345.3 748.2,347.4 747.6,349.2 C747.0,351.0 744.8,353.7 743.5,355.1 C742.2,356.5 739.9,356.5 739.9,357.5 C739.9,358.5 742.7,359.8 743.5,361.0 C744.3,362.2 745.4,363.4 744.6,364.6 C743.8,365.8 739.9,366.8 738.7,368.2 C737.5,369.6 737.3,371.7 737.5,372.9 C737.7,374.1 739.5,374.9 739.9,375.3"/></g><g fill="none" stroke="#6478c4" stroke-width="1.7" stroke-linecap="round" stroke-linejoin="round"><path d="M787.8,375.2 C788.7,375.1 791.3,375.2 793.0,374.8 C794.7,374.4 796.2,373.0 797.8,372.8 C799.4,372.6 801.6,372.8 802.6,373.5 C803.6,374.2 804.2,375.6 804.0,376.9 C803.8,378.1 802.0,379.6 801.3,381.0 C800.6,382.4 800.2,383.9 799.9,385.2 C799.5,386.5 799.4,387.3 799.2,388.7 C799.0,390.1 798.4,392.2 798.5,393.5 C798.6,394.8 799.4,396.2 799.9,396.3 C800.4,396.4 801.1,395.1 801.3,394.2 C801.5,393.3 800.4,391.8 800.9,390.7 C801.4,389.6 802.8,388.0 804.0,387.3 C805.2,386.6 807.5,386.7 808.2,386.6"/><path d="M782.6,380.7 C783.4,380.6 786.4,379.5 787.4,380.4 C788.4,381.3 788.2,384.4 788.8,385.9 C789.4,387.4 789.8,388.8 790.9,389.3 C792.0,389.8 794.4,389.0 795.7,388.7 C797.0,388.4 798.0,387.5 798.5,387.3"/></g><defs><linearGradient id="el" x1="0" y1="0" x2="0" y2="1"><stop offset="0" stop-color="#3a3a3a"/><stop offset="0.45" stop-color="#9c9c9c"/><stop offset="1" stop-color="#333"/></linearGradient></defs><rect x="768" y="340" width="31.5" height="10" rx="1" fill="url(#el)" stroke="#2e2e2e" stroke-width="1"/><rect x="768" y="472" width="31" height="10.5" rx="1" fill="url(#el)" stroke="#2e2e2e" stroke-width="1"/><path d="M799.5,345 H885.7 V367 M885.7,371.5 V406.3 M885.7,427 V477.5 H799" fill="none" stroke="#3a3a3a" stroke-width="1.5"/><line x1="879" y1="366.8" x2="893" y2="366.8" stroke="#3a3a3a" stroke-width="1.5"/><line x1="873.8" y1="371.6" x2="898" y2="371.6" stroke="#3a3a3a" stroke-width="1.5"/><circle cx="885.7" cy="416.6" r="10.3" fill="#fff" stroke="#3a3a3a" stroke-width="1.5"/><text x="885.7" y="421.3" text-anchor="middle" class="b" font-size="13" fill="#3a3a3a">A</text>
</svg>
</body></html>
